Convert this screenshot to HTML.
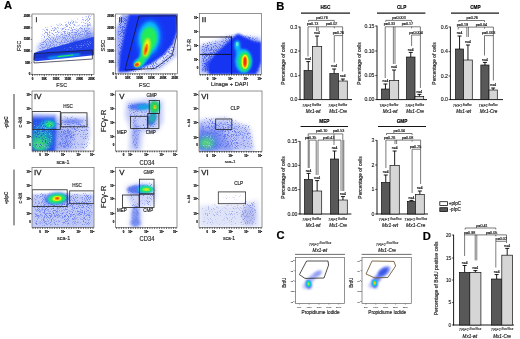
<!DOCTYPE html>
<html lang="en"><head><meta charset="utf-8"><title>Figure</title>
<style>
html,body{margin:0;padding:0;background:#fff;}
body{width:520px;height:339px;overflow:hidden;font-family:"Liberation Sans", Arial, sans-serif;}
svg{display:block;font-family:"Liberation Sans", Arial, sans-serif;}
</style></head>
<body>
<svg width="520" height="339" viewBox="0 0 520 339">
<rect x="0" y="0" width="520" height="339" fill="#ffffff"/>
<filter id="soft" x="0" y="0" width="100%" height="100%" filterUnits="userSpaceOnUse"><feGaussianBlur stdDeviation="0.18"/></filter>
<g id="fig" filter="url(#soft)">
<defs>
<filter id="b03" x="-20%" y="-20%" width="140%" height="140%"><feGaussianBlur stdDeviation="0.3"/></filter>
<filter id="b05" x="-30%" y="-30%" width="160%" height="160%"><feGaussianBlur stdDeviation="0.5"/></filter>
<filter id="b08" x="-30%" y="-30%" width="160%" height="160%"><feGaussianBlur stdDeviation="0.8"/></filter>
<filter id="b1" x="-40%" y="-40%" width="180%" height="180%"><feGaussianBlur stdDeviation="1.1"/></filter>
<filter id="b15" x="-50%" y="-50%" width="200%" height="200%"><feGaussianBlur stdDeviation="1.6"/></filter>
<filter id="b2" x="-50%" y="-50%" width="200%" height="200%"><feGaussianBlur stdDeviation="2.2"/></filter>
<filter id="b3" x="-60%" y="-60%" width="220%" height="220%"><feGaussianBlur stdDeviation="3"/></filter>
<filter id="spk" x="-5%" y="-5%" width="110%" height="110%" color-interpolation-filters="sRGB">
  <feGaussianBlur in="SourceGraphic" stdDeviation="2" result="g"/>
  <feTurbulence type="fractalNoise" baseFrequency="0.95" numOctaves="2" seed="7" result="n"/>
  <feColorMatrix in="n" type="matrix" values="0 0 0 0 0  0 0 0 0 0  0 0 0 0 0  1 0 0 0 0" result="na"/>
  <feComposite in="na" in2="g" operator="in" result="m"/>
  <feColorMatrix in="m" type="matrix" values="0 0 0 0 0  0 0 0 0 0  0 0 0 0 0  0 0 0 8 -3" result="mask"/>
  <feComposite in="g" in2="mask" operator="in"/>
</filter>
<filter id="spk2" x="-5%" y="-5%" width="110%" height="110%" color-interpolation-filters="sRGB">
  <feGaussianBlur in="SourceGraphic" stdDeviation="2" result="g"/>
  <feTurbulence type="fractalNoise" baseFrequency="1.1" numOctaves="2" seed="23" result="n"/>
  <feColorMatrix in="n" type="matrix" values="0 0 0 0 0  0 0 0 0 0  0 0 0 0 0  0 1 0 0 0" result="na"/>
  <feComposite in="na" in2="g" operator="in" result="m"/>
  <feColorMatrix in="m" type="matrix" values="0 0 0 0 0  0 0 0 0 0  0 0 0 0 0  0 0 0 8 -3" result="mask"/>
  <feComposite in="g" in2="mask" operator="in"/>
</filter>
</defs>
<text x="4.0" y="9.4" font-size="11.2" text-anchor="start" font-weight="bold" font-style="normal" fill="#000" stroke="#000" stroke-width="0.2">A</text>
<clipPath id="c1"><rect x="32" y="14" width="62" height="60.400000000000006"/></clipPath>
<g clip-path="url(#c1)">
<polygon points="36,54 37,46 44,40 94,26 94,40 60,50" fill="#8a9cf2" stroke="none" stroke-width="0.6" opacity="0.5" filter="url(#b2)"/>
<polygon points="56,49 94,32 94,40 60,50" fill="#5a72ee" stroke="none" stroke-width="0.6" opacity="0.55" filter="url(#b15)"/>
<g filter="url(#spk)"><polygon points="35,56 36,40 42,26 94,10 94,42 60,50" fill="#6a80f0" stroke="none" stroke-width="0.6" opacity="0.74"/></g>
<g filter="url(#spk2)"><polygon points="36,54 39,40 94,20 94,42 60,50" fill="#6a80f0" stroke="none" stroke-width="0.6" opacity="0.76"/></g>
<ellipse cx="76" cy="41.5" rx="5" ry="1.6" fill="#1434f2" opacity="0.5" filter="url(#b08)" transform="rotate(-12 76 41.5)"/>
<polygon points="34,53 38,51.6 94,36.8 94,55.2 36,61.2 33.5,60" fill="#2040e8" stroke="none" stroke-width="0.6" opacity="1" filter="url(#b03)"/>
<polygon points="34,53.6 92.4,50 92.4,53.5 34,58.5" fill="#1630c8" stroke="none" stroke-width="0.6" opacity="0.8" filter="url(#b05)"/>
<g filter="url(#spk)"><polygon points="38,51.5 94,36.5 94,49.5 40,53.2" fill="#9cb0f6" stroke="none" stroke-width="0.6" opacity="0.7"/></g>
<line x1="49" y1="57.9" x2="79" y2="54.3" stroke="#08c0fc" stroke-width="2" stroke-linecap="round" filter="url(#b08)" opacity="0.95"/>
<line x1="58.5" y1="56.7" x2="73" y2="55" stroke="#20ec58" stroke-width="1.2" stroke-linecap="round" filter="url(#b05)"/>
<polygon points="34.2,53.6 92.4,50 92.4,59 34,63" fill="none" stroke="#1a1a30" stroke-width="0.7" opacity="1"/>
</g>
<rect x="32" y="14" width="62" height="60.4" fill="none" stroke="#666" stroke-width="0.7"/>
<text x="30.4" y="17.0" font-size="2.8" text-anchor="end" font-weight="bold" fill="#111" stroke="#111" stroke-width="0.2">250K</text><line x1="30.8" y1="16.0" x2="32" y2="16.0" stroke="#222" stroke-width="0.5"/><text x="30.4" y="28.68" font-size="2.8" text-anchor="end" font-weight="bold" fill="#111" stroke="#111" stroke-width="0.2">200K</text><line x1="30.8" y1="27.68" x2="32" y2="27.68" stroke="#222" stroke-width="0.5"/><text x="30.4" y="40.36" font-size="2.8" text-anchor="end" font-weight="bold" fill="#111" stroke="#111" stroke-width="0.2">150K</text><line x1="30.8" y1="39.36" x2="32" y2="39.36" stroke="#222" stroke-width="0.5"/><text x="30.4" y="52.040000000000006" font-size="2.8" text-anchor="end" font-weight="bold" fill="#111" stroke="#111" stroke-width="0.2">100K</text><line x1="30.8" y1="51.040000000000006" x2="32" y2="51.040000000000006" stroke="#222" stroke-width="0.5"/><text x="30.4" y="63.720000000000006" font-size="2.8" text-anchor="end" font-weight="bold" fill="#111" stroke="#111" stroke-width="0.2">50K</text><line x1="30.8" y1="62.720000000000006" x2="32" y2="62.720000000000006" stroke="#222" stroke-width="0.5"/><text x="30.4" y="75.4" font-size="2.8" text-anchor="end" font-weight="bold" fill="#111" stroke="#111" stroke-width="0.2">0</text><line x1="30.8" y1="74.4" x2="32" y2="74.4" stroke="#222" stroke-width="0.5"/><text x="32.5" y="80.0" font-size="2.8" text-anchor="middle" font-weight="bold" fill="#111" stroke="#111" stroke-width="0.2">0</text><text x="44.3" y="80.0" font-size="2.8" text-anchor="middle" font-weight="bold" fill="#111" stroke="#111" stroke-width="0.2">50K</text><text x="56.1" y="80.0" font-size="2.8" text-anchor="middle" font-weight="bold" fill="#111" stroke="#111" stroke-width="0.2">100K</text><text x="67.9" y="80.0" font-size="2.8" text-anchor="middle" font-weight="bold" fill="#111" stroke="#111" stroke-width="0.2">150K</text><text x="79.7" y="80.0" font-size="2.8" text-anchor="middle" font-weight="bold" fill="#111" stroke="#111" stroke-width="0.2">200K</text><text x="91.5" y="80.0" font-size="2.8" text-anchor="middle" font-weight="bold" fill="#111" stroke="#111" stroke-width="0.2">250K</text><path d="M32.5 74.2v2M34.9 74.2v1.3M37.2 74.2v1.3M39.6 74.2v1.3M41.9 74.2v1.3M44.3 74.2v2M46.7 74.2v1.3M49.0 74.2v1.3M51.4 74.2v1.3M53.7 74.2v1.3M56.1 74.2v2M58.5 74.2v1.3M60.8 74.2v1.3M63.2 74.2v1.3M65.5 74.2v1.3M67.9 74.2v2M70.3 74.2v1.3M72.6 74.2v1.3M75.0 74.2v1.3M77.3 74.2v1.3M79.7 74.2v2M82.1 74.2v1.3M84.4 74.2v1.3M86.8 74.2v1.3M89.1 74.2v1.3M91.5 74.2v2" stroke="#111" stroke-width="0.7" fill="none"/>
<text x="35.4" y="22" font-size="8" text-anchor="start" font-weight="normal" font-style="normal" fill="#222" stroke="#222" stroke-width="0.25">i</text>
<text x="61.7" y="86.8" font-size="6.2" text-anchor="middle" font-weight="normal" font-style="normal" fill="#222" stroke="#222" stroke-width="0.16" textLength="10.8" lengthAdjust="spacingAndGlyphs">FSC</text>
<text x="21.4" y="46" font-size="6.2" text-anchor="middle" font-weight="normal" font-style="normal" fill="#222" stroke="#222" stroke-width="0.16" transform="rotate(-90 21.4 46)" textLength="10.2" lengthAdjust="spacingAndGlyphs">FSC</text>
<clipPath id="c2"><rect x="115.6" y="14" width="61.80000000000001" height="59.8"/></clipPath>
<g clip-path="url(#c2)">
<polygon points="140,73 165,58 177.4,40 177.4,56 160,70" fill="#8a9af0" stroke="none" stroke-width="0.6" opacity="0.45" filter="url(#b15)"/>
<g filter="url(#spk)"><polygon points="116,73.8 115.6,14 177.4,14 177.4,58 162,70 140,73.8" fill="#3f58ea" stroke="none" stroke-width="0.6" opacity="0.74"/></g>
<polygon points="116,70 116,30 122,14 130,14 122,60" fill="#4a62ec" stroke="none" stroke-width="0.6" opacity="0.5" filter="url(#b1)"/>
<g filter="url(#spk2)"><polygon points="116,73 115.6,14 132,14 122,66" fill="#3a55ec" stroke="none" stroke-width="0.6" opacity="0.78"/></g>
<polygon points="118,72.5 120,55 125,30 129,14 177.4,14 177.4,32 173,44 164,55 152,63.5 140,69 128,72" fill="#1434f2" stroke="none" stroke-width="0.6" opacity="1" filter="url(#b1)"/>
<ellipse cx="149" cy="39" rx="14" ry="21" fill="#0a5cff" opacity="0.7" filter="url(#b2)" transform="rotate(8 149 39)"/>
<ellipse cx="149" cy="38" rx="10.6" ry="16.5" fill="#08c0fc" opacity="0.95" filter="url(#b15)" transform="rotate(6 149 38)"/>
<ellipse cx="144.6" cy="55" rx="5" ry="8" fill="#08c0fc" opacity="0.9" filter="url(#b1)" transform="rotate(18 144.6 55)"/>
<ellipse cx="139.6" cy="62.6" rx="7" ry="4.6" fill="#08c0fc" opacity="0.95" filter="url(#b1)" transform="rotate(-35 139.6 62.6)"/>
<ellipse cx="149" cy="38.5" rx="8" ry="11.5" fill="#20ec58" opacity="1" filter="url(#b1)" transform="rotate(4 149 38.5)"/>
<ellipse cx="146.6" cy="50" rx="5" ry="9" fill="#20ec58" opacity="1" filter="url(#b1)" transform="rotate(14 146.6 50)"/>
<ellipse cx="139.3" cy="62.8" rx="5" ry="3.1" fill="#20ec58" opacity="1" filter="url(#b08)" transform="rotate(-35 139.3 62.8)"/>
<ellipse cx="142.6" cy="58" rx="2.6" ry="4.2" fill="#20ec58" opacity="1" filter="url(#b08)" transform="rotate(30 142.6 58)"/>
<ellipse cx="146.6" cy="47.5" rx="3.4" ry="9.6" fill="#f2f010" opacity="1" filter="url(#b08)" transform="rotate(10 146.6 47.5)"/>
<ellipse cx="137.4" cy="64.2" rx="3.3" ry="2.3" fill="#f2f010" opacity="1" filter="url(#b05)" transform="rotate(-30 137.4 64.2)"/>
<ellipse cx="145.9" cy="49.6" rx="1.6" ry="5.6" fill="#ff7208" opacity="1" filter="url(#b05)" transform="rotate(12 145.9 49.6)"/>
<ellipse cx="146" cy="50" rx="0.7" ry="3" fill="#f03208" opacity="0.9" filter="url(#b03)" transform="rotate(12 146 50)"/>
<ellipse cx="136.8" cy="64.7" rx="2.3" ry="1.8" fill="#f84a08" opacity="1" filter="url(#b05)" transform="rotate(-25 136.8 64.7)"/>
<polygon points="125,70 155,68.4 172,55.6 177.2,34 176.4,15.8 139,16" fill="none" stroke="#16162a" stroke-width="0.75" opacity="1"/>
</g>
<rect x="115.6" y="14" width="61.8" height="59.8" fill="none" stroke="#666" stroke-width="0.7"/>
<text x="114.0" y="17.0" font-size="2.8" text-anchor="end" font-weight="bold" fill="#111" stroke="#111" stroke-width="0.2">250K</text><line x1="114.39999999999999" y1="16.0" x2="115.6" y2="16.0" stroke="#222" stroke-width="0.5"/><text x="114.0" y="28.56" font-size="2.8" text-anchor="end" font-weight="bold" fill="#111" stroke="#111" stroke-width="0.2">200K</text><line x1="114.39999999999999" y1="27.56" x2="115.6" y2="27.56" stroke="#222" stroke-width="0.5"/><text x="114.0" y="40.12" font-size="2.8" text-anchor="end" font-weight="bold" fill="#111" stroke="#111" stroke-width="0.2">150K</text><line x1="114.39999999999999" y1="39.12" x2="115.6" y2="39.12" stroke="#222" stroke-width="0.5"/><text x="114.0" y="51.67999999999999" font-size="2.8" text-anchor="end" font-weight="bold" fill="#111" stroke="#111" stroke-width="0.2">100K</text><line x1="114.39999999999999" y1="50.67999999999999" x2="115.6" y2="50.67999999999999" stroke="#222" stroke-width="0.5"/><text x="114.0" y="63.239999999999995" font-size="2.8" text-anchor="end" font-weight="bold" fill="#111" stroke="#111" stroke-width="0.2">50K</text><line x1="114.39999999999999" y1="62.239999999999995" x2="115.6" y2="62.239999999999995" stroke="#222" stroke-width="0.5"/><text x="114.0" y="74.8" font-size="2.8" text-anchor="end" font-weight="bold" fill="#111" stroke="#111" stroke-width="0.2">0</text><line x1="114.39999999999999" y1="73.8" x2="115.6" y2="73.8" stroke="#222" stroke-width="0.5"/><text x="116.1" y="79.39999999999999" font-size="2.8" text-anchor="middle" font-weight="bold" fill="#111" stroke="#111" stroke-width="0.2">0</text><text x="127.86" y="79.39999999999999" font-size="2.8" text-anchor="middle" font-weight="bold" fill="#111" stroke="#111" stroke-width="0.2">50K</text><text x="139.62" y="79.39999999999999" font-size="2.8" text-anchor="middle" font-weight="bold" fill="#111" stroke="#111" stroke-width="0.2">100K</text><text x="151.38" y="79.39999999999999" font-size="2.8" text-anchor="middle" font-weight="bold" fill="#111" stroke="#111" stroke-width="0.2">150K</text><text x="163.14" y="79.39999999999999" font-size="2.8" text-anchor="middle" font-weight="bold" fill="#111" stroke="#111" stroke-width="0.2">200K</text><text x="174.9" y="79.39999999999999" font-size="2.8" text-anchor="middle" font-weight="bold" fill="#111" stroke="#111" stroke-width="0.2">250K</text><path d="M116.1 73.6v2M118.5 73.6v1.3M120.8 73.6v1.3M123.2 73.6v1.3M125.5 73.6v1.3M127.9 73.6v2M130.2 73.6v1.3M132.6 73.6v1.3M134.9 73.6v1.3M137.3 73.6v1.3M139.6 73.6v2M142.0 73.6v1.3M144.3 73.6v1.3M146.7 73.6v1.3M149.0 73.6v1.3M151.4 73.6v2M153.7 73.6v1.3M156.1 73.6v1.3M158.4 73.6v1.3M160.8 73.6v1.3M163.1 73.6v2M165.5 73.6v1.3M167.8 73.6v1.3M170.2 73.6v1.3M172.5 73.6v1.3M174.9 73.6v2" stroke="#111" stroke-width="0.7" fill="none"/>
<text x="118.8" y="22" font-size="8" text-anchor="start" font-weight="normal" font-style="normal" fill="#333" stroke="#333" stroke-width="0.25">ii</text>
<text x="144.6" y="86.9" font-size="6.2" text-anchor="middle" font-weight="normal" font-style="normal" fill="#222" stroke="#222" stroke-width="0.16" textLength="11" lengthAdjust="spacingAndGlyphs">FSC</text>
<text x="105.3" y="45.8" font-size="6.2" text-anchor="middle" font-weight="normal" font-style="normal" fill="#222" stroke="#222" stroke-width="0.16" transform="rotate(-90 105.3 45.8)" textLength="11.6" lengthAdjust="spacingAndGlyphs">SSC</text>
<clipPath id="c3"><rect x="199.4" y="13.6" width="61.99999999999997" height="60.800000000000004"/></clipPath>
<g clip-path="url(#c3)">
<polygon points="199.4,46 215,42 230,36 261.4,38 261.4,74.4 199.4,74.4" fill="#7086f0" stroke="none" stroke-width="0.6" opacity="0.6" filter="url(#b2)"/>
<g filter="url(#spk)"><polygon points="199.4,42 215,38 232,32 261.4,34 261.4,74.4 199.4,74.4" fill="#3f58ea" stroke="none" stroke-width="0.6" opacity="0.76"/></g>
<g filter="url(#spk2)"><polygon points="199.4,52 225,42 225,74.4 199.4,74.4" fill="#3f58ea" stroke="none" stroke-width="0.6" opacity="0.76"/></g>
<polygon points="209,74.4 208.5,64 214,55 223,46.5 231,39 238,33.5 245,37 254,41 261.4,42 261.4,62 259,68 256,74.4" fill="#1434f2" stroke="none" stroke-width="0.6" opacity="1" filter="url(#b1)"/>
<ellipse cx="212" cy="66" rx="8" ry="7" fill="#1434f2" opacity="0.6" filter="url(#b15)"/>
<ellipse cx="243.6" cy="61" rx="8.6" ry="12" fill="#08c0fc" opacity="0.95" filter="url(#b1)"/>
<ellipse cx="237.3" cy="45" rx="3" ry="4.6" fill="#08c0fc" opacity="0.95" filter="url(#b08)"/>
<ellipse cx="239" cy="52" rx="3.2" ry="6" fill="#08c0fc" opacity="0.85" filter="url(#b08)" transform="rotate(-20 239 52)"/>
<ellipse cx="244.5" cy="61.6" rx="6.4" ry="9.8" fill="#20ec58" opacity="1" filter="url(#b08)"/>
<ellipse cx="237.2" cy="44.2" rx="1.4" ry="2.2" fill="#5ff0d0" opacity="0.9" filter="url(#b05)"/>
<ellipse cx="245" cy="61.8" rx="3.6" ry="7.2" fill="#f2f010" opacity="1" filter="url(#b05)"/>
<ellipse cx="245" cy="61.8" rx="2" ry="5.6" fill="#ff7208" opacity="1" filter="url(#b05)"/>
<ellipse cx="245" cy="61.6" rx="1.1" ry="4" fill="#f03208" opacity="1" filter="url(#b03)"/>
<line x1="199.4" y1="37" x2="231.6" y2="37" stroke="#101020" stroke-width="1"/>
<line x1="199.4" y1="54.4" x2="231.6" y2="54.4" stroke="#101020" stroke-width="0.9"/>
<line x1="231.6" y1="36.5" x2="231.6" y2="74.4" stroke="#101020" stroke-width="0.9"/>
</g>
<rect x="199.4" y="13.6" width="62.0" height="60.8" fill="none" stroke="#666" stroke-width="0.7"/>
<text x="198.20000000000002" y="18.856" font-size="2.8" text-anchor="end" font-weight="bold" fill="#111" stroke="#111" stroke-width="0.2">10<tspan dy="-1" font-size="2">5</tspan></text><line x1="198.4" y1="17.856" x2="199.4" y2="17.856" stroke="#222" stroke-width="0.5"/><text x="198.20000000000002" y="32.84" font-size="2.8" text-anchor="end" font-weight="bold" fill="#111" stroke="#111" stroke-width="0.2">10<tspan dy="-1" font-size="2">4</tspan></text><line x1="198.4" y1="31.840000000000003" x2="199.4" y2="31.840000000000003" stroke="#222" stroke-width="0.5"/><text x="198.20000000000002" y="46.824000000000005" font-size="2.8" text-anchor="end" font-weight="bold" fill="#111" stroke="#111" stroke-width="0.2">10<tspan dy="-1" font-size="2">3</tspan></text><line x1="198.4" y1="45.824000000000005" x2="199.4" y2="45.824000000000005" stroke="#222" stroke-width="0.5"/><text x="198.20000000000002" y="61.416000000000004" font-size="2.8" text-anchor="end" font-weight="bold" fill="#111" stroke="#111" stroke-width="0.2">10<tspan dy="-1" font-size="2">2</tspan></text><line x1="198.4" y1="60.416000000000004" x2="199.4" y2="60.416000000000004" stroke="#222" stroke-width="0.5"/><text x="198.20000000000002" y="69.32000000000001" font-size="2.8" text-anchor="end" font-weight="bold" fill="#111" stroke="#111" stroke-width="0.2">0</text><text x="214.28" y="79.7" font-size="2.8" text-anchor="middle" font-weight="bold" fill="#111" stroke="#111" stroke-width="0.2">10<tspan dy="-1" font-size="2">2</tspan></text><text x="230.39999999999998" y="79.7" font-size="2.8" text-anchor="middle" font-weight="bold" fill="#111" stroke="#111" stroke-width="0.2">10<tspan dy="-1" font-size="2">3</tspan></text><text x="245.89999999999998" y="79.7" font-size="2.8" text-anchor="middle" font-weight="bold" fill="#111" stroke="#111" stroke-width="0.2">10<tspan dy="-1" font-size="2">4</tspan></text><text x="259.53999999999996" y="79.7" font-size="2.8" text-anchor="middle" font-weight="bold" fill="#111" stroke="#111" stroke-width="0.2">10<tspan dy="-1" font-size="2">5</tspan></text><text x="207.46" y="79.7" font-size="2.8" text-anchor="middle" font-weight="bold" fill="#111" stroke="#111" stroke-width="0.2">0</text><path d="M200.4 74.2v1.5M202.8 74.2v1.5M205.2 74.2v1.5M207.6 74.2v1.5M210.0 74.2v1.5M212.4 74.2v1.5M214.8 74.2v1.5M217.2 74.2v1.5M219.6 74.2v1.5M222.0 74.2v1.5M224.4 74.2v1.5M226.8 74.2v1.5M229.2 74.2v1.5M231.6 74.2v1.5M234.0 74.2v1.5M236.4 74.2v1.5M238.8 74.2v1.5M241.2 74.2v1.5M243.6 74.2v1.5M246.0 74.2v1.5M248.4 74.2v1.5M250.8 74.2v1.5M253.2 74.2v1.5M255.6 74.2v1.5M258.0 74.2v1.5M260.4 74.2v1.5" stroke="#111" stroke-width="0.7" fill="none"/>
<text x="201.8" y="22" font-size="8" text-anchor="start" font-weight="normal" font-style="normal" fill="#333" stroke="#333" stroke-width="0.25" textLength="4.6" lengthAdjust="spacingAndGlyphs">iii</text>
<text x="229.5" y="86.4" font-size="5.8" text-anchor="middle" font-weight="normal" font-style="normal" fill="#222" stroke="#222" stroke-width="0.16" textLength="37" lengthAdjust="spacingAndGlyphs">Linage + DAPI</text>
<text x="190.6" y="45.3" font-size="6" text-anchor="middle" font-weight="normal" font-style="normal" fill="#222" stroke="#222" stroke-width="0.16" transform="rotate(-90 190.6 45.3)" textLength="12.6" lengthAdjust="spacingAndGlyphs">IL7-R</text>
<text x="7.6" y="122.3" font-size="4.6" text-anchor="middle" font-weight="bold" font-style="normal" fill="#222" stroke="#222" stroke-width="0.1" transform="rotate(-90 7.6 122.3)">-pIpC</text>
<line x1="14" y1="94" x2="14" y2="149" stroke="#222" stroke-width="0.9"/>
<text x="7.6" y="198" font-size="4.5" text-anchor="middle" font-weight="bold" font-style="normal" fill="#222" stroke="#222" stroke-width="0.1" transform="rotate(-90 7.6 198)">+pIpC</text>
<line x1="14" y1="169.6" x2="14" y2="225.4" stroke="#222" stroke-width="0.9"/>
<clipPath id="c4"><rect x="32" y="91" width="62" height="60"/></clipPath>
<g clip-path="url(#c4)">
<polygon points="54,116 88,117 90,135 84,151 54,151" fill="#8e9cf0" stroke="none" stroke-width="0.6" opacity="0.5" filter="url(#b2)"/>
<polygon points="54,128 74,130 70,151 54,151" fill="#7a8cf0" stroke="none" stroke-width="0.6" opacity="0.5" filter="url(#b2)"/>
<g filter="url(#spk)"><polygon points="32,113 90,115 92,151 32,151" fill="#5068ec" stroke="none" stroke-width="0.6" opacity="0.7"/></g>
<g filter="url(#spk2)"><polygon points="56,117 86,117 86,126 75,140 70,151 56,151" fill="#5068ec" stroke="none" stroke-width="0.6" opacity="0.72"/></g>
<ellipse cx="72.5" cy="121.3" rx="10.5" ry="2.6" fill="#7084f0" opacity="0.75" filter="url(#b1)"/>
<polygon points="32,113.5 56,114 56,119 32,119" fill="#7f92f0" stroke="none" stroke-width="0.6" opacity="0.6" filter="url(#b1)"/>
<polygon points="30,117 55,117.4 56.5,130 55.5,153 30,153" fill="#2a52ec" stroke="none" stroke-width="0.6" opacity="1" filter="url(#b15)"/>
<ellipse cx="42" cy="137" rx="11" ry="12" fill="#1a8ed0" opacity="0.8" filter="url(#b15)" transform="rotate(-20 42 137)"/>
<ellipse cx="41" cy="142" rx="10.5" ry="9.5" fill="#18a8b4" opacity="0.85" filter="url(#b15)"/>
<ellipse cx="40" cy="143.5" rx="8" ry="7" fill="#2cc88c" opacity="0.9" filter="url(#b15)"/>
<ellipse cx="39.5" cy="144.5" rx="5" ry="4.6" fill="#44d878" opacity="0.8" filter="url(#b1)"/>
<ellipse cx="48" cy="124.4" rx="8.5" ry="4.8" fill="#16a0e4" opacity="0.85" filter="url(#b1)"/>
<ellipse cx="49.3" cy="124.3" rx="5" ry="3.3" fill="#12c8c0" opacity="0.9" filter="url(#b08)"/>
<ellipse cx="49.6" cy="124.3" rx="3.5" ry="2.4" fill="#20ec58" opacity="1" filter="url(#b08)"/>
<g filter="url(#spk)"><polygon points="32,118 55,118 55,151 32,151" fill="#9cc4f6" stroke="none" stroke-width="0.6" opacity="0.7"/></g>
<g filter="url(#spk2)"><polygon points="32,118 55,118 55,151 32,151" fill="#2038c8" stroke="none" stroke-width="0.6" opacity="0.68"/></g>
<rect x="32.1" y="111.4" width="28.2" height="18.0" fill="none" stroke="#222" stroke-width="0.8" opacity="1"/>
<rect x="61" y="112.8" width="26" height="14.0" fill="none" stroke="#222" stroke-width="0.8" opacity="1"/>
</g>
<rect x="32" y="91" width="62" height="60" fill="none" stroke="#666" stroke-width="0.7"/>
<text x="30.8" y="96.2" font-size="2.8" text-anchor="end" font-weight="bold" fill="#111" stroke="#111" stroke-width="0.2">10<tspan dy="-1" font-size="2">5</tspan></text><line x1="31" y1="95.2" x2="32" y2="95.2" stroke="#222" stroke-width="0.5"/><text x="30.8" y="110.0" font-size="2.8" text-anchor="end" font-weight="bold" fill="#111" stroke="#111" stroke-width="0.2">10<tspan dy="-1" font-size="2">4</tspan></text><line x1="31" y1="109.0" x2="32" y2="109.0" stroke="#222" stroke-width="0.5"/><text x="30.8" y="123.8" font-size="2.8" text-anchor="end" font-weight="bold" fill="#111" stroke="#111" stroke-width="0.2">10<tspan dy="-1" font-size="2">3</tspan></text><line x1="31" y1="122.8" x2="32" y2="122.8" stroke="#222" stroke-width="0.5"/><text x="30.8" y="138.2" font-size="2.8" text-anchor="end" font-weight="bold" fill="#111" stroke="#111" stroke-width="0.2">10<tspan dy="-1" font-size="2">2</tspan></text><line x1="31" y1="137.2" x2="32" y2="137.2" stroke="#222" stroke-width="0.5"/><text x="30.8" y="146.0" font-size="2.8" text-anchor="end" font-weight="bold" fill="#111" stroke="#111" stroke-width="0.2">0</text><text x="46.879999999999995" y="156.3" font-size="2.8" text-anchor="middle" font-weight="bold" fill="#111" stroke="#111" stroke-width="0.2">10<tspan dy="-1" font-size="2">2</tspan></text><text x="63.0" y="156.3" font-size="2.8" text-anchor="middle" font-weight="bold" fill="#111" stroke="#111" stroke-width="0.2">10<tspan dy="-1" font-size="2">3</tspan></text><text x="78.5" y="156.3" font-size="2.8" text-anchor="middle" font-weight="bold" fill="#111" stroke="#111" stroke-width="0.2">10<tspan dy="-1" font-size="2">4</tspan></text><text x="92.14" y="156.3" font-size="2.8" text-anchor="middle" font-weight="bold" fill="#111" stroke="#111" stroke-width="0.2">10<tspan dy="-1" font-size="2">5</tspan></text><text x="40.06" y="156.3" font-size="2.8" text-anchor="middle" font-weight="bold" fill="#111" stroke="#111" stroke-width="0.2">0</text><path d="M33.0 150.8v1.5M35.4 150.8v1.5M37.8 150.8v1.5M40.2 150.8v1.5M42.6 150.8v1.5M45.0 150.8v1.5M47.4 150.8v1.5M49.8 150.8v1.5M52.2 150.8v1.5M54.6 150.8v1.5M57.0 150.8v1.5M59.4 150.8v1.5M61.8 150.8v1.5M64.2 150.8v1.5M66.6 150.8v1.5M69.0 150.8v1.5M71.4 150.8v1.5M73.8 150.8v1.5M76.2 150.8v1.5M78.6 150.8v1.5M81.0 150.8v1.5M83.4 150.8v1.5M85.8 150.8v1.5M88.2 150.8v1.5M90.6 150.8v1.5M93.0 150.8v1.5" stroke="#111" stroke-width="0.7" fill="none"/>
<text x="34" y="98.6" font-size="7.8" text-anchor="start" font-weight="normal" font-style="normal" fill="#222" stroke="#222" stroke-width="0.28">IV</text>
<text x="68" y="107.6" font-size="4.6" text-anchor="middle" font-weight="normal" font-style="normal" fill="#222" stroke="#222" stroke-width="0.16">HSC</text>
<text x="63" y="164.2" font-size="5.4" text-anchor="middle" font-weight="normal" font-style="normal" fill="#222" stroke="#222" stroke-width="0.16">sca-1</text>
<text x="21.6" y="122.2" font-size="5.2" text-anchor="middle" font-weight="normal" font-style="normal" fill="#222" stroke="#222" stroke-width="0.16" transform="rotate(-90 21.6 122.2)" textLength="10.6" lengthAdjust="spacingAndGlyphs">c-kit</text>
<clipPath id="c5"><rect x="115.6" y="91" width="61.400000000000006" height="60"/></clipPath>
<g clip-path="url(#c5)">
<polygon points="126,102 150,98 163,101 163,122 157,131 143,132 141,151 129,151 130,128 125,116" fill="#8e9cf0" stroke="none" stroke-width="0.6" opacity="0.5" filter="url(#b2)"/>
<g filter="url(#spk)"><polygon points="124,102 150,98 163,100 163,120 158,132 143,134 140,151 128,151 130,130 126,118" fill="#5068ec" stroke="none" stroke-width="0.6" opacity="0.68"/></g>
<g filter="url(#spk2)"><polygon points="131,112 142,112 140,151 130,151" fill="#5068ec" stroke="none" stroke-width="0.6" opacity="0.72"/></g>
<ellipse cx="135.6" cy="135" rx="3.2" ry="14" fill="#8a9af0" opacity="0.55" filter="url(#b1)"/>
<ellipse cx="139" cy="106.6" rx="10.5" ry="3.4" fill="#3c66ee" opacity="0.85" filter="url(#b1)" transform="rotate(-5 139 106.6)"/>
<ellipse cx="144" cy="107" rx="6.5" ry="2.7" fill="#16a4e8" opacity="1" filter="url(#b08)" transform="rotate(-5 144 107)"/>
<ellipse cx="152" cy="119" rx="4" ry="7" fill="#2a6ae0" opacity="0.9" filter="url(#b1)" transform="rotate(20 152 119)"/>
<ellipse cx="152.5" cy="118" rx="3" ry="5" fill="#22b0b0" opacity="0.95" filter="url(#b08)" transform="rotate(25 152.5 118)"/>
<ellipse cx="154.5" cy="107" rx="5.2" ry="6.3" fill="#20b8c8" opacity="1" filter="url(#b08)"/>
<ellipse cx="154.6" cy="107" rx="4.4" ry="5.6" fill="#2fd050" opacity="1" filter="url(#b08)"/>
<ellipse cx="155" cy="107" rx="1.5" ry="2.1" fill="#c8e428" opacity="1" filter="url(#b05)"/>
<ellipse cx="155.2" cy="106.6" rx="0.8" ry="1.1" fill="#ff8a10" opacity="1" filter="url(#b05)"/>
<rect x="149.2" y="100.4" width="10.4" height="13.0" fill="none" stroke="#222" stroke-width="0.8" opacity="1"/>
<rect x="147.8" y="113.4" width="11.1" height="15.0" fill="none" stroke="#222" stroke-width="0.8" opacity="1"/>
<rect x="130.6" y="116.3" width="17.2" height="12.1" fill="none" stroke="#222" stroke-width="0.8" opacity="1"/>
</g>
<rect x="115.6" y="91" width="61.4" height="60" fill="none" stroke="#666" stroke-width="0.7"/>
<text x="114.39999999999999" y="96.2" font-size="2.8" text-anchor="end" font-weight="bold" fill="#111" stroke="#111" stroke-width="0.2">10<tspan dy="-1" font-size="2">5</tspan></text><line x1="114.6" y1="95.2" x2="115.6" y2="95.2" stroke="#222" stroke-width="0.5"/><text x="114.39999999999999" y="110.0" font-size="2.8" text-anchor="end" font-weight="bold" fill="#111" stroke="#111" stroke-width="0.2">10<tspan dy="-1" font-size="2">4</tspan></text><line x1="114.6" y1="109.0" x2="115.6" y2="109.0" stroke="#222" stroke-width="0.5"/><text x="114.39999999999999" y="123.8" font-size="2.8" text-anchor="end" font-weight="bold" fill="#111" stroke="#111" stroke-width="0.2">10<tspan dy="-1" font-size="2">3</tspan></text><line x1="114.6" y1="122.8" x2="115.6" y2="122.8" stroke="#222" stroke-width="0.5"/><text x="114.39999999999999" y="138.2" font-size="2.8" text-anchor="end" font-weight="bold" fill="#111" stroke="#111" stroke-width="0.2">10<tspan dy="-1" font-size="2">2</tspan></text><line x1="114.6" y1="137.2" x2="115.6" y2="137.2" stroke="#222" stroke-width="0.5"/><text x="114.39999999999999" y="146.0" font-size="2.8" text-anchor="end" font-weight="bold" fill="#111" stroke="#111" stroke-width="0.2">0</text><text x="130.33599999999998" y="156.3" font-size="2.8" text-anchor="middle" font-weight="bold" fill="#111" stroke="#111" stroke-width="0.2">10<tspan dy="-1" font-size="2">2</tspan></text><text x="146.3" y="156.3" font-size="2.8" text-anchor="middle" font-weight="bold" fill="#111" stroke="#111" stroke-width="0.2">10<tspan dy="-1" font-size="2">3</tspan></text><text x="161.65" y="156.3" font-size="2.8" text-anchor="middle" font-weight="bold" fill="#111" stroke="#111" stroke-width="0.2">10<tspan dy="-1" font-size="2">4</tspan></text><text x="175.15800000000002" y="156.3" font-size="2.8" text-anchor="middle" font-weight="bold" fill="#111" stroke="#111" stroke-width="0.2">10<tspan dy="-1" font-size="2">5</tspan></text><text x="123.582" y="156.3" font-size="2.8" text-anchor="middle" font-weight="bold" fill="#111" stroke="#111" stroke-width="0.2">0</text><path d="M116.6 150.8v1.5M119.0 150.8v1.5M121.4 150.8v1.5M123.7 150.8v1.5M126.1 150.8v1.5M128.5 150.8v1.5M130.9 150.8v1.5M133.2 150.8v1.5M135.6 150.8v1.5M138.0 150.8v1.5M140.4 150.8v1.5M142.7 150.8v1.5M145.1 150.8v1.5M147.5 150.8v1.5M149.9 150.8v1.5M152.2 150.8v1.5M154.6 150.8v1.5M157.0 150.8v1.5M159.4 150.8v1.5M161.7 150.8v1.5M164.1 150.8v1.5M166.5 150.8v1.5M168.9 150.8v1.5M171.2 150.8v1.5M173.6 150.8v1.5M176.0 150.8v1.5" stroke="#111" stroke-width="0.7" fill="none"/>
<text x="119.2" y="98.6" font-size="7.8" text-anchor="start" font-weight="normal" font-style="normal" fill="#222" stroke="#222" stroke-width="0.28">V</text>
<text x="151.6" y="96.8" font-size="4.5" text-anchor="middle" font-weight="normal" font-style="normal" fill="#222" stroke="#222" stroke-width="0.16">GMP</text>
<text x="122" y="134" font-size="4.5" text-anchor="middle" font-weight="normal" font-style="normal" fill="#222" stroke="#222" stroke-width="0.16">MEP</text>
<text x="150.8" y="133.8" font-size="4.5" text-anchor="middle" font-weight="normal" font-style="normal" fill="#222" stroke="#222" stroke-width="0.16">CMP</text>
<text x="147" y="164.6" font-size="6.8" text-anchor="middle" font-weight="normal" font-style="normal" fill="#222" stroke="#222" stroke-width="0.14" textLength="14.8" lengthAdjust="spacingAndGlyphs">CD34</text>
<text x="106.2" y="121" font-size="6.3" text-anchor="middle" font-weight="normal" font-style="normal" fill="#222" stroke="#222" stroke-width="0.16" transform="rotate(-90 106.2 121)" textLength="22.6" lengthAdjust="spacingAndGlyphs">FCγ-R</text>
<clipPath id="c6"><rect x="199" y="91" width="63" height="60.400000000000006"/></clipPath>
<g clip-path="url(#c6)">
<polygon points="199,120 225,118 250,128 254,151.4 199,151.4" fill="#8e9cf0" stroke="none" stroke-width="0.6" opacity="0.55" filter="url(#b2)"/>
<polygon points="199,128 222,128 234,151.4 199,151.4" fill="#6a80f0" stroke="none" stroke-width="0.6" opacity="0.6" filter="url(#b2)"/>
<g filter="url(#spk)"><polygon points="199,116 225,114 252,122 257,151.4 199,151.4" fill="#5068ec" stroke="none" stroke-width="0.6" opacity="0.7"/></g>
<g filter="url(#spk2)"><polygon points="199,120 225,118 245,130 248,151.4 199,151.4" fill="#5068ec" stroke="none" stroke-width="0.6" opacity="0.7"/></g>
<ellipse cx="208" cy="141.5" rx="13" ry="11" fill="#5a74ee" opacity="0.5" filter="url(#b2)"/>
<ellipse cx="201.5" cy="136" rx="2.5" ry="14" fill="#5a74ee" opacity="0.4" filter="url(#b1)"/>
<ellipse cx="207" cy="142.5" rx="10" ry="8" fill="#3a98c8" opacity="0.6" filter="url(#b15)"/>
<ellipse cx="206.5" cy="143" rx="7" ry="5.4" fill="#48c490" opacity="0.8" filter="url(#b1)"/>
<ellipse cx="206" cy="143" rx="3.6" ry="2.8" fill="#5cd870" opacity="0.7" filter="url(#b08)"/>
<g filter="url(#spk)"><polygon points="199,132 218,132 218,151.4 199,151.4" fill="#c0d4f8" stroke="none" stroke-width="0.6" opacity="0.7"/></g>
<rect x="215.7" y="119" width="16.1" height="10.4" fill="none" stroke="#222" stroke-width="0.8" opacity="1"/>
</g>
<rect x="199" y="91" width="63" height="60.4" fill="none" stroke="#666" stroke-width="0.7"/>
<text x="197.8" y="96.228" font-size="2.8" text-anchor="end" font-weight="bold" fill="#111" stroke="#111" stroke-width="0.2">10<tspan dy="-1" font-size="2">5</tspan></text><line x1="198" y1="95.228" x2="199" y2="95.228" stroke="#222" stroke-width="0.5"/><text x="197.8" y="110.12" font-size="2.8" text-anchor="end" font-weight="bold" fill="#111" stroke="#111" stroke-width="0.2">10<tspan dy="-1" font-size="2">4</tspan></text><line x1="198" y1="109.12" x2="199" y2="109.12" stroke="#222" stroke-width="0.5"/><text x="197.8" y="124.012" font-size="2.8" text-anchor="end" font-weight="bold" fill="#111" stroke="#111" stroke-width="0.2">10<tspan dy="-1" font-size="2">3</tspan></text><line x1="198" y1="123.012" x2="199" y2="123.012" stroke="#222" stroke-width="0.5"/><text x="197.8" y="138.508" font-size="2.8" text-anchor="end" font-weight="bold" fill="#111" stroke="#111" stroke-width="0.2">10<tspan dy="-1" font-size="2">2</tspan></text><line x1="198" y1="137.508" x2="199" y2="137.508" stroke="#222" stroke-width="0.5"/><text x="197.8" y="146.36" font-size="2.8" text-anchor="end" font-weight="bold" fill="#111" stroke="#111" stroke-width="0.2">0</text><text x="214.12" y="156.70000000000002" font-size="2.8" text-anchor="middle" font-weight="bold" fill="#111" stroke="#111" stroke-width="0.2">10<tspan dy="-1" font-size="2">2</tspan></text><text x="230.5" y="156.70000000000002" font-size="2.8" text-anchor="middle" font-weight="bold" fill="#111" stroke="#111" stroke-width="0.2">10<tspan dy="-1" font-size="2">3</tspan></text><text x="246.25" y="156.70000000000002" font-size="2.8" text-anchor="middle" font-weight="bold" fill="#111" stroke="#111" stroke-width="0.2">10<tspan dy="-1" font-size="2">4</tspan></text><text x="260.11" y="156.70000000000002" font-size="2.8" text-anchor="middle" font-weight="bold" fill="#111" stroke="#111" stroke-width="0.2">10<tspan dy="-1" font-size="2">5</tspan></text><text x="207.19" y="156.70000000000002" font-size="2.8" text-anchor="middle" font-weight="bold" fill="#111" stroke="#111" stroke-width="0.2">0</text><path d="M200.0 151.20000000000002v1.5M202.4 151.20000000000002v1.5M204.9 151.20000000000002v1.5M207.3 151.20000000000002v1.5M209.8 151.20000000000002v1.5M212.2 151.20000000000002v1.5M214.6 151.20000000000002v1.5M217.1 151.20000000000002v1.5M219.5 151.20000000000002v1.5M222.0 151.20000000000002v1.5M224.4 151.20000000000002v1.5M226.8 151.20000000000002v1.5M229.3 151.20000000000002v1.5M231.7 151.20000000000002v1.5M234.2 151.20000000000002v1.5M236.6 151.20000000000002v1.5M239.0 151.20000000000002v1.5M241.5 151.20000000000002v1.5M243.9 151.20000000000002v1.5M246.4 151.20000000000002v1.5M248.8 151.20000000000002v1.5M251.2 151.20000000000002v1.5M253.7 151.20000000000002v1.5M256.1 151.20000000000002v1.5M258.6 151.20000000000002v1.5M261.0 151.20000000000002v1.5" stroke="#111" stroke-width="0.7" fill="none"/>
<text x="201.2" y="98.6" font-size="7.8" text-anchor="start" font-weight="normal" font-style="normal" fill="#222" stroke="#222" stroke-width="0.28">VI</text>
<text x="235" y="109.6" font-size="4.6" text-anchor="middle" font-weight="normal" font-style="normal" fill="#222" stroke="#222" stroke-width="0.16">CLP</text>
<text x="230" y="162.8" font-size="4.4" text-anchor="middle" font-weight="normal" font-style="normal" fill="#222" stroke="#222" stroke-width="0.16">sca-1</text>
<text x="189.6" y="123" font-size="4.2" text-anchor="middle" font-weight="normal" font-style="normal" fill="#222" stroke="#222" stroke-width="0.16" transform="rotate(-90 189.6 123)">c-kit</text>
<clipPath id="c7"><rect x="32" y="167.6" width="62" height="60.0"/></clipPath>
<g clip-path="url(#c7)">
<rect x="30" y="194" width="66" height="36" fill="#8c9cf0" stroke="none" stroke-width="0.6" opacity="0.52" filter="url(#b15)"/>
<g filter="url(#spk)"><polygon points="32,191 94,191 94,227.6 32,227.6" fill="#5068ec" stroke="none" stroke-width="0.6" opacity="0.7"/></g>
<g filter="url(#spk2)"><polygon points="32,193 94,193 94,227.6 32,227.6" fill="#5068ec" stroke="none" stroke-width="0.6" opacity="0.7"/></g>
<ellipse cx="56.5" cy="198.8" rx="12.5" ry="6.2" fill="#4464ea" opacity="0.8" filter="url(#b15)" transform="rotate(-5 56.5 198.8)"/>
<ellipse cx="56.8" cy="198.6" rx="9.6" ry="4.9" fill="#08c0fc" opacity="0.9" filter="url(#b1)" transform="rotate(-6 56.8 198.6)"/>
<ellipse cx="56.8" cy="198.6" rx="8.8" ry="4.4" fill="#20ec58" opacity="1" filter="url(#b08)" transform="rotate(-6 56.8 198.6)"/>
<ellipse cx="57" cy="198.5" rx="4.6" ry="2.5" fill="#f2f010" opacity="1" filter="url(#b05)" transform="rotate(-6 57 198.5)"/>
<ellipse cx="57.2" cy="198.4" rx="2.4" ry="1.3" fill="#ff7208" opacity="1" filter="url(#b05)" transform="rotate(-6 57.2 198.4)"/>
<ellipse cx="57.4" cy="198.3" rx="1.2" ry="0.7" fill="#f03208" opacity="0.9" filter="url(#b03)" transform="rotate(-6 57.4 198.3)"/>
<rect x="32.1" y="189.8" width="35.1" height="16.6" fill="none" stroke="#222" stroke-width="0.8" opacity="1"/>
<rect x="69.7" y="190.9" width="24.3" height="12.8" fill="none" stroke="#222" stroke-width="0.8" opacity="1"/>
</g>
<rect x="32" y="167.6" width="62" height="60.0" fill="none" stroke="#666" stroke-width="0.7"/>
<text x="30.8" y="172.79999999999998" font-size="2.8" text-anchor="end" font-weight="bold" fill="#111" stroke="#111" stroke-width="0.2">10<tspan dy="-1" font-size="2">5</tspan></text><line x1="31" y1="171.79999999999998" x2="32" y2="171.79999999999998" stroke="#222" stroke-width="0.5"/><text x="30.8" y="186.6" font-size="2.8" text-anchor="end" font-weight="bold" fill="#111" stroke="#111" stroke-width="0.2">10<tspan dy="-1" font-size="2">4</tspan></text><line x1="31" y1="185.6" x2="32" y2="185.6" stroke="#222" stroke-width="0.5"/><text x="30.8" y="200.4" font-size="2.8" text-anchor="end" font-weight="bold" fill="#111" stroke="#111" stroke-width="0.2">10<tspan dy="-1" font-size="2">3</tspan></text><line x1="31" y1="199.4" x2="32" y2="199.4" stroke="#222" stroke-width="0.5"/><text x="30.8" y="214.8" font-size="2.8" text-anchor="end" font-weight="bold" fill="#111" stroke="#111" stroke-width="0.2">10<tspan dy="-1" font-size="2">2</tspan></text><line x1="31" y1="213.8" x2="32" y2="213.8" stroke="#222" stroke-width="0.5"/><text x="30.8" y="222.6" font-size="2.8" text-anchor="end" font-weight="bold" fill="#111" stroke="#111" stroke-width="0.2">0</text><text x="46.879999999999995" y="232.9" font-size="2.8" text-anchor="middle" font-weight="bold" fill="#111" stroke="#111" stroke-width="0.2">10<tspan dy="-1" font-size="2">2</tspan></text><text x="63.0" y="232.9" font-size="2.8" text-anchor="middle" font-weight="bold" fill="#111" stroke="#111" stroke-width="0.2">10<tspan dy="-1" font-size="2">3</tspan></text><text x="78.5" y="232.9" font-size="2.8" text-anchor="middle" font-weight="bold" fill="#111" stroke="#111" stroke-width="0.2">10<tspan dy="-1" font-size="2">4</tspan></text><text x="92.14" y="232.9" font-size="2.8" text-anchor="middle" font-weight="bold" fill="#111" stroke="#111" stroke-width="0.2">10<tspan dy="-1" font-size="2">5</tspan></text><text x="40.06" y="232.9" font-size="2.8" text-anchor="middle" font-weight="bold" fill="#111" stroke="#111" stroke-width="0.2">0</text><path d="M33.0 227.4v1.5M35.4 227.4v1.5M37.8 227.4v1.5M40.2 227.4v1.5M42.6 227.4v1.5M45.0 227.4v1.5M47.4 227.4v1.5M49.8 227.4v1.5M52.2 227.4v1.5M54.6 227.4v1.5M57.0 227.4v1.5M59.4 227.4v1.5M61.8 227.4v1.5M64.2 227.4v1.5M66.6 227.4v1.5M69.0 227.4v1.5M71.4 227.4v1.5M73.8 227.4v1.5M76.2 227.4v1.5M78.6 227.4v1.5M81.0 227.4v1.5M83.4 227.4v1.5M85.8 227.4v1.5M88.2 227.4v1.5M90.6 227.4v1.5M93.0 227.4v1.5" stroke="#111" stroke-width="0.7" fill="none"/>
<text x="34" y="175.2" font-size="7.8" text-anchor="start" font-weight="normal" font-style="normal" fill="#222" stroke="#222" stroke-width="0.28">IV</text>
<text x="77" y="187.2" font-size="4.6" text-anchor="middle" font-weight="normal" font-style="normal" fill="#222" stroke="#222" stroke-width="0.16">HSC</text>
<text x="63.6" y="240.2" font-size="5.4" text-anchor="middle" font-weight="normal" font-style="normal" fill="#222" stroke="#222" stroke-width="0.16">sca-1</text>
<text x="21.6" y="198.2" font-size="5.2" text-anchor="middle" font-weight="normal" font-style="normal" fill="#222" stroke="#222" stroke-width="0.16" transform="rotate(-90 21.6 198.2)" textLength="10.6" lengthAdjust="spacingAndGlyphs">c-kit</text>
<clipPath id="c8"><rect x="115.6" y="167.6" width="61.400000000000006" height="60.0"/></clipPath>
<g clip-path="url(#c8)">
<polygon points="126,186 140,182 156,184 156,196 153,206 142,206 142,227.6 129,227.6 131,206 127,196" fill="#8e9cf0" stroke="none" stroke-width="0.6" opacity="0.4" filter="url(#b2)"/>
<g filter="url(#spk)"><polygon points="124,184 140,180 156,182 158,196 154,208 142,208 143,227.6 127,227.6 130,206 126,196" fill="#5068ec" stroke="none" stroke-width="0.6" opacity="0.68"/></g>
<g filter="url(#spk2)"><polygon points="131,200 141,200 142,227.6 129,227.6" fill="#5068ec" stroke="none" stroke-width="0.6" opacity="0.72"/></g>
<ellipse cx="135.6" cy="216" rx="4.2" ry="10" fill="#6a82f0" opacity="0.7" filter="url(#b1)"/>
<ellipse cx="135.6" cy="223" rx="5.5" ry="4" fill="#6a82f0" opacity="0.6" filter="url(#b1)"/>
<ellipse cx="139" cy="189.6" rx="12" ry="4.4" fill="#4a66ec" opacity="0.85" filter="url(#b1)"/>
<ellipse cx="145.5" cy="189.4" rx="8" ry="3.8" fill="#08c0fc" opacity="0.95" filter="url(#b08)"/>
<ellipse cx="146" cy="189.4" rx="6.6" ry="3" fill="#20ec58" opacity="1" filter="url(#b08)"/>
<ellipse cx="146.3" cy="189.4" rx="3.6" ry="1.6" fill="#a0e830" opacity="1" filter="url(#b05)"/>
<ellipse cx="146.6" cy="189.4" rx="1.6" ry="0.8" fill="#d8ec20" opacity="1" filter="url(#b05)"/>
<rect x="139.5" y="179.2" width="14.5" height="14.8" fill="none" stroke="#222" stroke-width="0.8" opacity="1"/>
<rect x="139.5" y="194" width="14.5" height="13.4" fill="none" stroke="#222" stroke-width="0.8" opacity="1"/>
<rect x="122.4" y="195" width="16.7" height="12.4" fill="none" stroke="#222" stroke-width="0.8" opacity="1"/>
</g>
<rect x="115.6" y="167.6" width="61.4" height="60.0" fill="none" stroke="#666" stroke-width="0.7"/>
<text x="114.39999999999999" y="172.79999999999998" font-size="2.8" text-anchor="end" font-weight="bold" fill="#111" stroke="#111" stroke-width="0.2">10<tspan dy="-1" font-size="2">5</tspan></text><line x1="114.6" y1="171.79999999999998" x2="115.6" y2="171.79999999999998" stroke="#222" stroke-width="0.5"/><text x="114.39999999999999" y="186.6" font-size="2.8" text-anchor="end" font-weight="bold" fill="#111" stroke="#111" stroke-width="0.2">10<tspan dy="-1" font-size="2">4</tspan></text><line x1="114.6" y1="185.6" x2="115.6" y2="185.6" stroke="#222" stroke-width="0.5"/><text x="114.39999999999999" y="200.4" font-size="2.8" text-anchor="end" font-weight="bold" fill="#111" stroke="#111" stroke-width="0.2">10<tspan dy="-1" font-size="2">3</tspan></text><line x1="114.6" y1="199.4" x2="115.6" y2="199.4" stroke="#222" stroke-width="0.5"/><text x="114.39999999999999" y="214.8" font-size="2.8" text-anchor="end" font-weight="bold" fill="#111" stroke="#111" stroke-width="0.2">10<tspan dy="-1" font-size="2">2</tspan></text><line x1="114.6" y1="213.8" x2="115.6" y2="213.8" stroke="#222" stroke-width="0.5"/><text x="114.39999999999999" y="222.6" font-size="2.8" text-anchor="end" font-weight="bold" fill="#111" stroke="#111" stroke-width="0.2">0</text><text x="130.33599999999998" y="232.9" font-size="2.8" text-anchor="middle" font-weight="bold" fill="#111" stroke="#111" stroke-width="0.2">10<tspan dy="-1" font-size="2">2</tspan></text><text x="146.3" y="232.9" font-size="2.8" text-anchor="middle" font-weight="bold" fill="#111" stroke="#111" stroke-width="0.2">10<tspan dy="-1" font-size="2">3</tspan></text><text x="161.65" y="232.9" font-size="2.8" text-anchor="middle" font-weight="bold" fill="#111" stroke="#111" stroke-width="0.2">10<tspan dy="-1" font-size="2">4</tspan></text><text x="175.15800000000002" y="232.9" font-size="2.8" text-anchor="middle" font-weight="bold" fill="#111" stroke="#111" stroke-width="0.2">10<tspan dy="-1" font-size="2">5</tspan></text><text x="123.582" y="232.9" font-size="2.8" text-anchor="middle" font-weight="bold" fill="#111" stroke="#111" stroke-width="0.2">0</text><path d="M116.6 227.4v1.5M119.0 227.4v1.5M121.4 227.4v1.5M123.7 227.4v1.5M126.1 227.4v1.5M128.5 227.4v1.5M130.9 227.4v1.5M133.2 227.4v1.5M135.6 227.4v1.5M138.0 227.4v1.5M140.4 227.4v1.5M142.7 227.4v1.5M145.1 227.4v1.5M147.5 227.4v1.5M149.9 227.4v1.5M152.2 227.4v1.5M154.6 227.4v1.5M157.0 227.4v1.5M159.4 227.4v1.5M161.7 227.4v1.5M164.1 227.4v1.5M166.5 227.4v1.5M168.9 227.4v1.5M171.2 227.4v1.5M173.6 227.4v1.5M176.0 227.4v1.5" stroke="#111" stroke-width="0.7" fill="none"/>
<text x="119.2" y="175.2" font-size="7.8" text-anchor="start" font-weight="normal" font-style="normal" fill="#222" stroke="#222" stroke-width="0.28">V</text>
<text x="148.7" y="174.4" font-size="4.5" text-anchor="middle" font-weight="normal" font-style="normal" fill="#222" stroke="#222" stroke-width="0.16">GMP</text>
<text x="121.8" y="212.4" font-size="4.5" text-anchor="middle" font-weight="normal" font-style="normal" fill="#222" stroke="#222" stroke-width="0.16">MEP</text>
<text x="148.2" y="212.4" font-size="4.5" text-anchor="middle" font-weight="normal" font-style="normal" fill="#222" stroke="#222" stroke-width="0.16">CMP</text>
<text x="147" y="240.6" font-size="6.8" text-anchor="middle" font-weight="normal" font-style="normal" fill="#222" stroke="#222" stroke-width="0.14" textLength="14.8" lengthAdjust="spacingAndGlyphs">CD34</text>
<text x="106.2" y="197" font-size="6.3" text-anchor="middle" font-weight="normal" font-style="normal" fill="#222" stroke="#222" stroke-width="0.16" transform="rotate(-90 106.2 197)" textLength="22.6" lengthAdjust="spacingAndGlyphs">FCγ-R</text>
<clipPath id="c9"><rect x="199" y="167.6" width="63" height="60.0"/></clipPath>
<g clip-path="url(#c9)">
<polygon points="199,206 240,204 258,200 260,227.6 199,227.6" fill="#aab4ea" stroke="none" stroke-width="0.6" opacity="0.36" filter="url(#b2)"/>
<g filter="url(#spk)"><polygon points="199,203 240,200 258,196 260,227.6 199,227.6" fill="#7484e4" stroke="none" stroke-width="0.6" opacity="0.66"/></g>
<g filter="url(#spk2)"><polygon points="238,204 250,198 258,200 258,227.6 238,227.6" fill="#6676e2" stroke="none" stroke-width="0.6" opacity="0.7"/></g>
<g filter="url(#spk2)"><polygon points="220,193 244,193 244,203 220,203" fill="#6878e0" stroke="none" stroke-width="0.6" opacity="0.65"/></g>
<ellipse cx="249" cy="215" rx="7" ry="10" fill="#909ce8" opacity="0.45" filter="url(#b15)"/>
<rect x="218.3" y="191.9" width="27.3" height="11.8" fill="none" stroke="#333" stroke-width="0.8" opacity="1"/>
</g>
<rect x="199" y="167.6" width="63" height="60.0" fill="none" stroke="#666" stroke-width="0.7"/>
<text x="197.8" y="172.79999999999998" font-size="2.8" text-anchor="end" font-weight="bold" fill="#111" stroke="#111" stroke-width="0.2">10<tspan dy="-1" font-size="2">5</tspan></text><line x1="198" y1="171.79999999999998" x2="199" y2="171.79999999999998" stroke="#222" stroke-width="0.5"/><text x="197.8" y="186.6" font-size="2.8" text-anchor="end" font-weight="bold" fill="#111" stroke="#111" stroke-width="0.2">10<tspan dy="-1" font-size="2">4</tspan></text><line x1="198" y1="185.6" x2="199" y2="185.6" stroke="#222" stroke-width="0.5"/><text x="197.8" y="200.4" font-size="2.8" text-anchor="end" font-weight="bold" fill="#111" stroke="#111" stroke-width="0.2">10<tspan dy="-1" font-size="2">3</tspan></text><line x1="198" y1="199.4" x2="199" y2="199.4" stroke="#222" stroke-width="0.5"/><text x="197.8" y="214.8" font-size="2.8" text-anchor="end" font-weight="bold" fill="#111" stroke="#111" stroke-width="0.2">10<tspan dy="-1" font-size="2">2</tspan></text><line x1="198" y1="213.8" x2="199" y2="213.8" stroke="#222" stroke-width="0.5"/><text x="197.8" y="222.6" font-size="2.8" text-anchor="end" font-weight="bold" fill="#111" stroke="#111" stroke-width="0.2">0</text><text x="214.12" y="232.9" font-size="2.8" text-anchor="middle" font-weight="bold" fill="#111" stroke="#111" stroke-width="0.2">10<tspan dy="-1" font-size="2">2</tspan></text><text x="230.5" y="232.9" font-size="2.8" text-anchor="middle" font-weight="bold" fill="#111" stroke="#111" stroke-width="0.2">10<tspan dy="-1" font-size="2">3</tspan></text><text x="246.25" y="232.9" font-size="2.8" text-anchor="middle" font-weight="bold" fill="#111" stroke="#111" stroke-width="0.2">10<tspan dy="-1" font-size="2">4</tspan></text><text x="260.11" y="232.9" font-size="2.8" text-anchor="middle" font-weight="bold" fill="#111" stroke="#111" stroke-width="0.2">10<tspan dy="-1" font-size="2">5</tspan></text><text x="207.19" y="232.9" font-size="2.8" text-anchor="middle" font-weight="bold" fill="#111" stroke="#111" stroke-width="0.2">0</text><path d="M200.0 227.4v1.5M202.4 227.4v1.5M204.9 227.4v1.5M207.3 227.4v1.5M209.8 227.4v1.5M212.2 227.4v1.5M214.6 227.4v1.5M217.1 227.4v1.5M219.5 227.4v1.5M222.0 227.4v1.5M224.4 227.4v1.5M226.8 227.4v1.5M229.3 227.4v1.5M231.7 227.4v1.5M234.2 227.4v1.5M236.6 227.4v1.5M239.0 227.4v1.5M241.5 227.4v1.5M243.9 227.4v1.5M246.4 227.4v1.5M248.8 227.4v1.5M251.2 227.4v1.5M253.7 227.4v1.5M256.1 227.4v1.5M258.6 227.4v1.5M261.0 227.4v1.5" stroke="#111" stroke-width="0.7" fill="none"/>
<text x="201.2" y="175.2" font-size="7.8" text-anchor="start" font-weight="normal" font-style="normal" fill="#222" stroke="#222" stroke-width="0.28">VI</text>
<text x="238.6" y="184.6" font-size="4.6" text-anchor="middle" font-weight="normal" font-style="normal" fill="#222" stroke="#222" stroke-width="0.16">CLP</text>
<text x="229" y="240" font-size="5" text-anchor="middle" font-weight="normal" font-style="normal" fill="#222" stroke="#222" stroke-width="0.16">sca-1</text>
<text x="189.6" y="199" font-size="4.2" text-anchor="middle" font-weight="normal" font-style="normal" fill="#222" stroke="#222" stroke-width="0.16" transform="rotate(-90 189.6 199)">c-kit</text>
<text x="276.3" y="9.7" font-size="11.2" text-anchor="start" font-weight="bold" font-style="normal" fill="#000" stroke="#000" stroke-width="0.2">B</text>
<text x="325.4" y="9.3" font-size="4.7" text-anchor="middle" font-weight="bold" font-style="normal" fill="#000" stroke="#000" stroke-width="0.16">HSC</text><line x1="301" y1="13.1" x2="350" y2="13.1" stroke="#181818" stroke-width="1.15"/>
<line x1="300" y1="26.7" x2="300" y2="100.0" stroke="#000" stroke-width="0.9"/><line x1="299.6" y1="99.6" x2="352" y2="99.6" stroke="#000" stroke-width="0.9"/><line x1="298.2" y1="27" x2="300" y2="27" stroke="#111" stroke-width="0.7"/><text x="297.5" y="28.872" font-size="5.2" text-anchor="end" font-weight="normal" font-style="normal" fill="#111" stroke="#111" stroke-width="0.1">0.3</text><line x1="298.2" y1="51" x2="300" y2="51" stroke="#111" stroke-width="0.7"/><text x="297.5" y="52.872" font-size="5.2" text-anchor="end" font-weight="normal" font-style="normal" fill="#111" stroke="#111" stroke-width="0.1">0.2</text><line x1="298.2" y1="75.6" x2="300" y2="75.6" stroke="#111" stroke-width="0.7"/><text x="297.5" y="77.472" font-size="5.2" text-anchor="end" font-weight="normal" font-style="normal" fill="#111" stroke="#111" stroke-width="0.1">0.1</text><line x1="298.2" y1="99.6" x2="300" y2="99.6" stroke="#111" stroke-width="0.7"/><text x="297.5" y="101.472" font-size="5.2" text-anchor="end" font-weight="normal" font-style="normal" fill="#111" stroke="#111" stroke-width="0.1">0.0</text><line x1="308.25" y1="61.6" x2="308.25" y2="70.4" stroke="#000" stroke-width="0.9"/><line x1="306.25" y1="61.6" x2="310.25" y2="61.6" stroke="#000" stroke-width="0.9"/><rect x="304.05" y="70.4" width="8.35" height="29.2" fill="#585858" stroke="#111" stroke-width="0.7"/><text x="308.25" y="59.9" font-size="3.4" text-anchor="middle" font-weight="normal" font-style="normal" fill="#111" stroke="#111" stroke-width="0.16">n=4</text><line x1="317.04999999999995" y1="36" x2="317.04999999999995" y2="46.4" stroke="#000" stroke-width="0.9"/><line x1="315.04999999999995" y1="36" x2="319.04999999999995" y2="36" stroke="#000" stroke-width="0.9"/><rect x="312.4" y="46.4" width="9.3" height="53.2" fill="#d6d6d6" stroke="#111" stroke-width="0.7"/><text x="317.04999999999995" y="34.3" font-size="3.4" text-anchor="middle" font-weight="normal" font-style="normal" fill="#111" stroke="#111" stroke-width="0.16">n=4</text><line x1="334.15" y1="69" x2="334.15" y2="73.6" stroke="#000" stroke-width="0.9"/><line x1="332.15" y1="69" x2="336.15" y2="69" stroke="#000" stroke-width="0.9"/><rect x="329.85" y="73.6" width="8.55" height="26.0" fill="#585858" stroke="#111" stroke-width="0.7"/><text x="334.15" y="67.3" font-size="3.4" text-anchor="middle" font-weight="normal" font-style="normal" fill="#111" stroke="#111" stroke-width="0.16">n=4</text><line x1="342.84999999999997" y1="79" x2="342.84999999999997" y2="81" stroke="#000" stroke-width="0.9"/><line x1="340.84999999999997" y1="79" x2="344.84999999999997" y2="79" stroke="#000" stroke-width="0.9"/><rect x="338.4" y="81" width="8.9" height="18.6" fill="#d6d6d6" stroke="#111" stroke-width="0.7"/><text x="342.84999999999997" y="77.3" font-size="3.4" text-anchor="middle" font-weight="normal" font-style="normal" fill="#111" stroke="#111" stroke-width="0.16">n=4</text><text x="284.8" y="63.4" font-size="5" text-anchor="middle" font-weight="normal" font-style="normal" fill="#222" stroke="#222" stroke-width="0.16" transform="rotate(-90 284.8 63.4)">Percentage of cells</text><text x="311.6" y="106.89999999999999" font-size="3.8" text-anchor="middle" font-style="italic" fill="#222" stroke="#222" stroke-width="0.12" textLength="19" lengthAdjust="spacing">TRF1<tspan dy="-1.14" dx="0.5" font-size="2.7">flox/flox</tspan></text><text x="313.2" y="112.6" font-size="4.6" text-anchor="middle" font-weight="normal" font-style="italic" fill="#222" stroke="#222" stroke-width="0.16">Mx1-wt</text><text x="337.6" y="106.89999999999999" font-size="3.8" text-anchor="middle" font-style="italic" fill="#222" stroke="#222" stroke-width="0.12" textLength="19" lengthAdjust="spacing">TRF1<tspan dy="-1.14" dx="0.5" font-size="2.7">flox/flox</tspan></text><text x="338" y="112.6" font-size="4.6" text-anchor="middle" font-weight="normal" font-style="italic" fill="#222" stroke="#222" stroke-width="0.16">Mx1-Cre</text>
<path d="M308.6 21.9V20.4H334.3V21.9M308 56.5V26.8H342.6V35.6M316.59999999999997 26.8V31M318.2 26.8V31M334.3 26.8V28.3M334.3 62.5V35.6H342.6V71.5" fill="none" stroke="#222" stroke-width="0.6"/><text x="322" y="19.0" font-size="3.7" text-anchor="middle" font-weight="normal" font-style="normal" fill="#111" stroke="#111" stroke-width="0.16">p=0.76</text><text x="312.6" y="25.400000000000002" font-size="3.7" text-anchor="middle" font-weight="normal" font-style="normal" fill="#111" stroke="#111" stroke-width="0.16">p=0.13</text><text x="331.6" y="25.400000000000002" font-size="3.7" text-anchor="middle" font-weight="normal" font-style="normal" fill="#111" stroke="#111" stroke-width="0.16">p=0.02</text><text x="338.4" y="34.199999999999996" font-size="3.7" text-anchor="middle" font-weight="normal" font-style="normal" fill="#111" stroke="#111" stroke-width="0.16">p=0.26</text>
<text x="401.6" y="9.3" font-size="4.7" text-anchor="middle" font-weight="bold" font-style="normal" fill="#000" stroke="#000" stroke-width="0.16">CLP</text><line x1="377" y1="13.1" x2="425.4" y2="13.1" stroke="#181818" stroke-width="1.15"/>
<line x1="377" y1="25.7" x2="377" y2="100.0" stroke="#000" stroke-width="0.9"/><line x1="376.6" y1="99.6" x2="427" y2="99.6" stroke="#000" stroke-width="0.9"/><line x1="375.2" y1="26" x2="377" y2="26" stroke="#111" stroke-width="0.7"/><text x="374.5" y="27.872" font-size="5.2" text-anchor="end" font-weight="normal" font-style="normal" fill="#111" stroke="#111" stroke-width="0.1">0.15</text><line x1="375.2" y1="51" x2="377" y2="51" stroke="#111" stroke-width="0.7"/><text x="374.5" y="52.872" font-size="5.2" text-anchor="end" font-weight="normal" font-style="normal" fill="#111" stroke="#111" stroke-width="0.1">0.10</text><line x1="375.2" y1="75.6" x2="377" y2="75.6" stroke="#111" stroke-width="0.7"/><text x="374.5" y="77.472" font-size="5.2" text-anchor="end" font-weight="normal" font-style="normal" fill="#111" stroke="#111" stroke-width="0.1">0.05</text><line x1="375.2" y1="99.6" x2="377" y2="99.6" stroke="#111" stroke-width="0.7"/><text x="374.5" y="101.472" font-size="5.2" text-anchor="end" font-weight="normal" font-style="normal" fill="#111" stroke="#111" stroke-width="0.1">0.00</text><line x1="385.45" y1="84" x2="385.45" y2="89" stroke="#000" stroke-width="0.9"/><line x1="383.45" y1="84" x2="387.45" y2="84" stroke="#000" stroke-width="0.9"/><rect x="381.45" y="89" width="7.95" height="10.6" fill="#585858" stroke="#111" stroke-width="0.7"/><text x="385.45" y="82.3" font-size="3.4" text-anchor="middle" font-weight="normal" font-style="normal" fill="#111" stroke="#111" stroke-width="0.16">n=4</text><line x1="394.04999999999995" y1="70" x2="394.04999999999995" y2="80.6" stroke="#000" stroke-width="0.9"/><line x1="392.04999999999995" y1="70" x2="396.04999999999995" y2="70" stroke="#000" stroke-width="0.9"/><rect x="389.4" y="80.6" width="9.3" height="19.0" fill="#d6d6d6" stroke="#111" stroke-width="0.7"/><text x="394.04999999999995" y="68.3" font-size="3.4" text-anchor="middle" font-weight="normal" font-style="normal" fill="#111" stroke="#111" stroke-width="0.16">n=4</text><line x1="410.75" y1="52.4" x2="410.75" y2="57" stroke="#000" stroke-width="0.9"/><line x1="408.75" y1="52.4" x2="412.75" y2="52.4" stroke="#000" stroke-width="0.9"/><rect x="406.45" y="57" width="8.55" height="42.6" fill="#585858" stroke="#111" stroke-width="0.7"/><text x="410.75" y="50.699999999999996" font-size="3.4" text-anchor="middle" font-weight="normal" font-style="normal" fill="#111" stroke="#111" stroke-width="0.16">n=4</text><line x1="419.34999999999997" y1="94.4" x2="419.34999999999997" y2="96.4" stroke="#000" stroke-width="0.9"/><line x1="417.34999999999997" y1="94.4" x2="421.34999999999997" y2="94.4" stroke="#000" stroke-width="0.9"/><rect x="415" y="96.4" width="8.7" height="3.2" fill="#d6d6d6" stroke="#111" stroke-width="0.7"/><text x="419.34999999999997" y="92.7" font-size="3.4" text-anchor="middle" font-weight="normal" font-style="normal" fill="#111" stroke="#111" stroke-width="0.16">n=4</text><text x="361.4" y="63.4" font-size="5" text-anchor="middle" font-weight="normal" font-style="normal" fill="#222" stroke="#222" stroke-width="0.16" transform="rotate(-90 361.4 63.4)">Percentage of cells</text><text x="388.8" y="106.89999999999999" font-size="3.8" text-anchor="middle" font-style="italic" fill="#222" stroke="#222" stroke-width="0.12" textLength="19" lengthAdjust="spacing">TRF1<tspan dy="-1.14" dx="0.5" font-size="2.7">flox/flox</tspan></text><text x="390.2" y="112.6" font-size="4.6" text-anchor="middle" font-weight="normal" font-style="italic" fill="#222" stroke="#222" stroke-width="0.16">Mx1-wt</text><text x="414.6" y="106.89999999999999" font-size="3.8" text-anchor="middle" font-style="italic" fill="#222" stroke="#222" stroke-width="0.12" textLength="19" lengthAdjust="spacing">TRF1<tspan dy="-1.14" dx="0.5" font-size="2.7">flox/flox</tspan></text><text x="415" y="112.6" font-size="4.6" text-anchor="middle" font-weight="normal" font-style="italic" fill="#222" stroke="#222" stroke-width="0.16">Mx1-Cre</text>
<path d="M385.8 21.9V20.4H411.6V21.9M385.2 78V26.8H420.4V35M393.4 26.8V64M395.0 26.8V64M411.6 26.8V28.3M411.6 46V35H420.4V88" fill="none" stroke="#222" stroke-width="0.6"/><text x="399" y="19.0" font-size="3.7" text-anchor="middle" font-weight="normal" font-style="normal" fill="#111" stroke="#111" stroke-width="0.16">p=0.003</text><text x="389.4" y="25.400000000000002" font-size="3.7" text-anchor="middle" font-weight="normal" font-style="normal" fill="#111" stroke="#111" stroke-width="0.16">p=0.33</text><text x="407.4" y="25.400000000000002" font-size="3.7" text-anchor="middle" font-weight="normal" font-style="normal" fill="#111" stroke="#111" stroke-width="0.16">p=0.17</text><text x="416" y="33.599999999999994" font-size="3.7" text-anchor="middle" font-weight="normal" font-style="normal" fill="#111" stroke="#111" stroke-width="0.16">p=0.004</text>
<text x="475.4" y="9.3" font-size="4.7" text-anchor="middle" font-weight="bold" font-style="normal" fill="#000" stroke="#000" stroke-width="0.16">CMP</text><line x1="451" y1="13.1" x2="499" y2="13.1" stroke="#181818" stroke-width="1.15"/>
<line x1="450.4" y1="26.7" x2="450.4" y2="100.0" stroke="#000" stroke-width="0.9"/><line x1="450.0" y1="99.6" x2="503" y2="99.6" stroke="#000" stroke-width="0.9"/><line x1="448.59999999999997" y1="27" x2="450.4" y2="27" stroke="#111" stroke-width="0.7"/><text x="447.9" y="28.872" font-size="5.2" text-anchor="end" font-weight="normal" font-style="normal" fill="#111" stroke="#111" stroke-width="0.1">0.6</text><line x1="448.59999999999997" y1="51.6" x2="450.4" y2="51.6" stroke="#111" stroke-width="0.7"/><text x="447.9" y="53.472" font-size="5.2" text-anchor="end" font-weight="normal" font-style="normal" fill="#111" stroke="#111" stroke-width="0.1">0.4</text><line x1="448.59999999999997" y1="76" x2="450.4" y2="76" stroke="#111" stroke-width="0.7"/><text x="447.9" y="77.872" font-size="5.2" text-anchor="end" font-weight="normal" font-style="normal" fill="#111" stroke="#111" stroke-width="0.1">0.2</text><line x1="448.59999999999997" y1="99.6" x2="450.4" y2="99.6" stroke="#111" stroke-width="0.7"/><text x="447.9" y="101.472" font-size="5.2" text-anchor="end" font-weight="normal" font-style="normal" fill="#111" stroke="#111" stroke-width="0.1">0.0</text><line x1="459.55" y1="36" x2="459.55" y2="49" stroke="#000" stroke-width="0.9"/><line x1="457.55" y1="36" x2="461.55" y2="36" stroke="#000" stroke-width="0.9"/><rect x="455.45" y="49" width="8.15" height="50.6" fill="#585858" stroke="#111" stroke-width="0.7"/><text x="459.55" y="34.3" font-size="3.4" text-anchor="middle" font-weight="normal" font-style="normal" fill="#111" stroke="#111" stroke-width="0.16">n=4</text><line x1="467.95" y1="45" x2="467.95" y2="60" stroke="#000" stroke-width="0.9"/><line x1="465.95" y1="45" x2="469.95" y2="45" stroke="#000" stroke-width="0.9"/><rect x="463.6" y="60" width="8.7" height="39.6" fill="#d6d6d6" stroke="#111" stroke-width="0.7"/><text x="467.95" y="43.3" font-size="3.4" text-anchor="middle" font-weight="normal" font-style="normal" fill="#111" stroke="#111" stroke-width="0.16">n=4</text><line x1="484.95" y1="62.4" x2="484.95" y2="65" stroke="#000" stroke-width="0.9"/><line x1="482.95" y1="62.4" x2="486.95" y2="62.4" stroke="#000" stroke-width="0.9"/><rect x="480.85" y="65" width="8.15" height="34.6" fill="#585858" stroke="#111" stroke-width="0.7"/><text x="484.95" y="60.699999999999996" font-size="3.4" text-anchor="middle" font-weight="normal" font-style="normal" fill="#111" stroke="#111" stroke-width="0.16">n=4</text><line x1="493.15" y1="88" x2="493.15" y2="90" stroke="#000" stroke-width="0.9"/><line x1="491.15" y1="88" x2="495.15" y2="88" stroke="#000" stroke-width="0.9"/><rect x="489" y="90" width="8.3" height="9.6" fill="#d6d6d6" stroke="#111" stroke-width="0.7"/><text x="493.15" y="86.3" font-size="3.4" text-anchor="middle" font-weight="normal" font-style="normal" fill="#111" stroke="#111" stroke-width="0.16">n=4</text><text x="435.6" y="63.4" font-size="5" text-anchor="middle" font-weight="normal" font-style="normal" fill="#222" stroke="#222" stroke-width="0.16" transform="rotate(-90 435.6 63.4)">Percentage of cells</text><text x="462.2" y="106.89999999999999" font-size="3.8" text-anchor="middle" font-style="italic" fill="#222" stroke="#222" stroke-width="0.12" textLength="19" lengthAdjust="spacing">TRF1<tspan dy="-1.14" dx="0.5" font-size="2.7">flox/flox</tspan></text><text x="463.6" y="112.6" font-size="4.6" text-anchor="middle" font-weight="normal" font-style="italic" fill="#222" stroke="#222" stroke-width="0.16">Mx1-wt</text><text x="488" y="106.89999999999999" font-size="3.8" text-anchor="middle" font-style="italic" fill="#222" stroke="#222" stroke-width="0.12" textLength="19" lengthAdjust="spacing">TRF1<tspan dy="-1.14" dx="0.5" font-size="2.7">flox/flox</tspan></text><text x="488.6" y="112.6" font-size="4.6" text-anchor="middle" font-weight="normal" font-style="italic" fill="#222" stroke="#222" stroke-width="0.16">Mx1-Cre</text>
<path d="M458.8 22.0V20.5H484.5V22.0M458.2 29.5V27.1H493.4V35.6M466.8 27.1V37M468.40000000000003 27.1V37M484.5 27.1V28.6M484.5 55.5V35.6H493.4V80.5" fill="none" stroke="#222" stroke-width="0.6"/><text x="472.2" y="19.1" font-size="3.7" text-anchor="middle" font-weight="normal" font-style="normal" fill="#111" stroke="#111" stroke-width="0.16">p=0.26</text><text x="462.4" y="25.700000000000003" font-size="3.7" text-anchor="middle" font-weight="normal" font-style="normal" fill="#111" stroke="#111" stroke-width="0.16">p=0.19</text><text x="481.4" y="25.700000000000003" font-size="3.7" text-anchor="middle" font-weight="normal" font-style="normal" fill="#111" stroke="#111" stroke-width="0.16">p=0.04</text><text x="488.6" y="34.199999999999996" font-size="3.7" text-anchor="middle" font-weight="normal" font-style="normal" fill="#111" stroke="#111" stroke-width="0.16">p=0.003</text>
<text x="324.4" y="122.7" font-size="4.7" text-anchor="middle" font-weight="bold" font-style="normal" fill="#000" stroke="#000" stroke-width="0.16">MEP</text><line x1="300.6" y1="126.5" x2="348" y2="126.5" stroke="#181818" stroke-width="1.15"/>
<line x1="300" y1="141.1" x2="300" y2="214.4" stroke="#000" stroke-width="0.9"/><line x1="299.6" y1="214" x2="351.4" y2="214" stroke="#000" stroke-width="0.9"/><line x1="298.2" y1="141.4" x2="300" y2="141.4" stroke="#111" stroke-width="0.7"/><text x="297.5" y="143.272" font-size="5.2" text-anchor="end" font-weight="normal" font-style="normal" fill="#111" stroke="#111" stroke-width="0.1">0.15</text><line x1="298.2" y1="165.4" x2="300" y2="165.4" stroke="#111" stroke-width="0.7"/><text x="297.5" y="167.272" font-size="5.2" text-anchor="end" font-weight="normal" font-style="normal" fill="#111" stroke="#111" stroke-width="0.1">0.10</text><line x1="298.2" y1="189.6" x2="300" y2="189.6" stroke="#111" stroke-width="0.7"/><text x="297.5" y="191.47199999999998" font-size="5.2" text-anchor="end" font-weight="normal" font-style="normal" fill="#111" stroke="#111" stroke-width="0.1">0.05</text><line x1="298.2" y1="214" x2="300" y2="214" stroke="#111" stroke-width="0.7"/><text x="297.5" y="215.872" font-size="5.2" text-anchor="end" font-weight="normal" font-style="normal" fill="#111" stroke="#111" stroke-width="0.1">0.00</text><line x1="308.55" y1="173.4" x2="308.55" y2="179.4" stroke="#000" stroke-width="0.9"/><line x1="306.55" y1="173.4" x2="310.55" y2="173.4" stroke="#000" stroke-width="0.9"/><rect x="304.45" y="179.4" width="8.15" height="34.6" fill="#585858" stroke="#111" stroke-width="0.7"/><text x="308.55" y="171.70000000000002" font-size="3.4" text-anchor="middle" font-weight="normal" font-style="normal" fill="#111" stroke="#111" stroke-width="0.16">n=4</text><line x1="317.15" y1="180.6" x2="317.15" y2="191" stroke="#000" stroke-width="0.9"/><line x1="315.15" y1="180.6" x2="319.15" y2="180.6" stroke="#000" stroke-width="0.9"/><rect x="312.6" y="191" width="9.1" height="23" fill="#d6d6d6" stroke="#111" stroke-width="0.7"/><text x="317.15" y="178.9" font-size="3.4" text-anchor="middle" font-weight="normal" font-style="normal" fill="#111" stroke="#111" stroke-width="0.16">n=4</text><line x1="334.55" y1="151" x2="334.55" y2="159" stroke="#000" stroke-width="0.9"/><line x1="332.55" y1="151" x2="336.55" y2="151" stroke="#000" stroke-width="0.9"/><rect x="330.45" y="159" width="8.15" height="55" fill="#585858" stroke="#111" stroke-width="0.7"/><text x="334.55" y="149.3" font-size="3.4" text-anchor="middle" font-weight="normal" font-style="normal" fill="#111" stroke="#111" stroke-width="0.16">n=4</text><line x1="342.95" y1="196.6" x2="342.95" y2="200" stroke="#000" stroke-width="0.9"/><line x1="340.95" y1="196.6" x2="344.95" y2="196.6" stroke="#000" stroke-width="0.9"/><rect x="338.6" y="200" width="8.7" height="14" fill="#d6d6d6" stroke="#111" stroke-width="0.7"/><text x="342.95" y="194.9" font-size="3.4" text-anchor="middle" font-weight="normal" font-style="normal" fill="#111" stroke="#111" stroke-width="0.16">n=4</text><text x="285" y="177.4" font-size="5" text-anchor="middle" font-weight="normal" font-style="normal" fill="#222" stroke="#222" stroke-width="0.16" transform="rotate(-90 285 177.4)">Percentage of cells</text><text x="311.6" y="221.3" font-size="3.8" text-anchor="middle" font-style="italic" fill="#222" stroke="#222" stroke-width="0.12" textLength="19" lengthAdjust="spacing">TRF1<tspan dy="-1.14" dx="0.5" font-size="2.7">flox/flox</tspan></text><text x="313.2" y="227.0" font-size="4.6" text-anchor="middle" font-weight="normal" font-style="italic" fill="#222" stroke="#222" stroke-width="0.16">Mx1-wt</text><text x="337.6" y="221.3" font-size="3.8" text-anchor="middle" font-style="italic" fill="#222" stroke="#222" stroke-width="0.12" textLength="19" lengthAdjust="spacing">TRF1<tspan dy="-1.14" dx="0.5" font-size="2.7">flox/flox</tspan></text><text x="338" y="227.0" font-size="4.6" text-anchor="middle" font-weight="normal" font-style="italic" fill="#222" stroke="#222" stroke-width="0.16">Mx1-Cre</text>
<path d="M308.2 168V133.9H342.8V191M334 133.9V145M343.8 140V191M309.2 168V140.1H316.2V175M318 175V140.1H341V191" fill="none" stroke="#222" stroke-width="0.6"/>
<text x="321.6" y="132.3" font-size="3.7" text-anchor="middle" font-weight="normal" font-style="normal" fill="#111" stroke="#111" stroke-width="0.16">p=0.10</text><text x="338.6" y="132.3" font-size="3.7" text-anchor="middle" font-weight="normal" font-style="normal" fill="#111" stroke="#111" stroke-width="0.16">p=0.53</text><text x="310.6" y="138.70000000000002" font-size="3.7" text-anchor="middle" font-weight="normal" font-style="normal" fill="#111" stroke="#111" stroke-width="0.16">p=0.35</text><text x="328.8" y="138.70000000000002" font-size="3.7" text-anchor="middle" font-weight="normal" font-style="normal" fill="#111" stroke="#111" stroke-width="0.16">p=0.43</text>
<text x="402" y="122.7" font-size="4.7" text-anchor="middle" font-weight="bold" font-style="normal" fill="#000" stroke="#000" stroke-width="0.16">GMP</text><line x1="378" y1="126.5" x2="426" y2="126.5" stroke="#181818" stroke-width="1.15"/>
<line x1="377" y1="140.1" x2="377" y2="214.4" stroke="#000" stroke-width="0.9"/><line x1="376.6" y1="214" x2="428" y2="214" stroke="#000" stroke-width="0.9"/><line x1="375.2" y1="140.4" x2="377" y2="140.4" stroke="#111" stroke-width="0.7"/><text x="374.5" y="142.272" font-size="5.2" text-anchor="end" font-weight="normal" font-style="normal" fill="#111" stroke="#111" stroke-width="0.1">3</text><line x1="375.2" y1="165" x2="377" y2="165" stroke="#111" stroke-width="0.7"/><text x="374.5" y="166.872" font-size="5.2" text-anchor="end" font-weight="normal" font-style="normal" fill="#111" stroke="#111" stroke-width="0.1">2</text><line x1="375.2" y1="189.4" x2="377" y2="189.4" stroke="#111" stroke-width="0.7"/><text x="374.5" y="191.272" font-size="5.2" text-anchor="end" font-weight="normal" font-style="normal" fill="#111" stroke="#111" stroke-width="0.1">1</text><line x1="375.2" y1="214" x2="377" y2="214" stroke="#111" stroke-width="0.7"/><text x="374.5" y="215.872" font-size="5.2" text-anchor="end" font-weight="normal" font-style="normal" fill="#111" stroke="#111" stroke-width="0.1">0</text><line x1="385.75" y1="175" x2="385.75" y2="182.4" stroke="#000" stroke-width="0.9"/><line x1="383.75" y1="175" x2="387.75" y2="175" stroke="#000" stroke-width="0.9"/><rect x="381.45" y="182.4" width="8.55" height="31.6" fill="#585858" stroke="#111" stroke-width="0.7"/><text x="385.75" y="173.3" font-size="3.4" text-anchor="middle" font-weight="normal" font-style="normal" fill="#111" stroke="#111" stroke-width="0.16">n=4</text><line x1="394.65" y1="151" x2="394.65" y2="165.4" stroke="#000" stroke-width="0.9"/><line x1="392.65" y1="151" x2="396.65" y2="151" stroke="#000" stroke-width="0.9"/><rect x="390" y="165.4" width="9.3" height="48.6" fill="#d6d6d6" stroke="#111" stroke-width="0.7"/><text x="394.65" y="149.3" font-size="3.4" text-anchor="middle" font-weight="normal" font-style="normal" fill="#111" stroke="#111" stroke-width="0.16">n=4</text><line x1="411.45" y1="200.4" x2="411.45" y2="201.4" stroke="#000" stroke-width="0.9"/><line x1="409.45" y1="200.4" x2="413.45" y2="200.4" stroke="#000" stroke-width="0.9"/><rect x="407.45" y="201.4" width="7.95" height="12.6" fill="#585858" stroke="#111" stroke-width="0.7"/><text x="411.45" y="198.70000000000002" font-size="3.4" text-anchor="middle" font-weight="normal" font-style="normal" fill="#111" stroke="#111" stroke-width="0.16">n=4</text><line x1="419.84999999999997" y1="191" x2="419.84999999999997" y2="194.6" stroke="#000" stroke-width="0.9"/><line x1="417.84999999999997" y1="191" x2="421.84999999999997" y2="191" stroke="#000" stroke-width="0.9"/><rect x="415.4" y="194.6" width="8.9" height="19.4" fill="#d6d6d6" stroke="#111" stroke-width="0.7"/><text x="419.84999999999997" y="189.3" font-size="3.4" text-anchor="middle" font-weight="normal" font-style="normal" fill="#111" stroke="#111" stroke-width="0.16">n=4</text><text x="362.4" y="177.4" font-size="5" text-anchor="middle" font-weight="normal" font-style="normal" fill="#222" stroke="#222" stroke-width="0.16" transform="rotate(-90 362.4 177.4)">Percentage of cells</text><text x="390" y="221.2" font-size="4.4" text-anchor="middle" font-style="italic" fill="#222" stroke="#222" stroke-width="0.12" textLength="23" lengthAdjust="spacing">TRF1<tspan dy="-1.32" dx="0.5" font-size="3.2">flox/flox</tspan></text><text x="390" y="227.4" font-size="5" text-anchor="middle" font-weight="normal" font-style="italic" fill="#222" stroke="#222" stroke-width="0.16">Mx1-wt</text><text x="415.6" y="221.2" font-size="4.4" text-anchor="middle" font-style="italic" fill="#222" stroke="#222" stroke-width="0.12" textLength="23" lengthAdjust="spacing">TRF1<tspan dy="-1.32" dx="0.5" font-size="3.2">flox/flox</tspan></text><text x="415.6" y="227.4" font-size="5" text-anchor="middle" font-weight="normal" font-style="italic" fill="#222" stroke="#222" stroke-width="0.16">Mx1-Cre</text>
<path d="M386.5 135.0V133.5H412.1V135.0M385.9 168V140.1H420.6V149.2M395.0 140.1V144M396.6 140.1V144M412.1 140.1V141.6M412.1 193V149.2H420.6V184" fill="none" stroke="#222" stroke-width="0.6"/><text x="399.2" y="132.10000000000002" font-size="3.7" text-anchor="middle" font-weight="normal" font-style="normal" fill="#111" stroke="#111" stroke-width="0.16">p=0.34</text><text x="389.6" y="138.70000000000002" font-size="3.7" text-anchor="middle" font-weight="normal" font-style="normal" fill="#111" stroke="#111" stroke-width="0.16">p=0.26</text><text x="407.6" y="138.70000000000002" font-size="3.7" text-anchor="middle" font-weight="normal" font-style="normal" fill="#111" stroke="#111" stroke-width="0.16">p=0.08</text><text x="415.6" y="147.8" font-size="3.7" text-anchor="middle" font-weight="normal" font-style="normal" fill="#111" stroke="#111" stroke-width="0.16">p=0.25</text>
<rect x="439.8" y="201.7" width="7.8" height="3.8" fill="#fff" stroke="#111" stroke-width="0.8" opacity="1"/>
<rect x="439.8" y="207.7" width="7.8" height="3.8" fill="#585858" stroke="#111" stroke-width="0.8" opacity="1"/>
<text x="448.8" y="205.3" font-size="4.6" text-anchor="start" font-weight="normal" font-style="normal" fill="#222" stroke="#222" stroke-width="0.16">+pIpC</text>
<text x="449.6" y="211.3" font-size="4.6" text-anchor="start" font-weight="normal" font-style="normal" fill="#222" stroke="#222" stroke-width="0.16">-pIpC</text>
<text x="276.5" y="239.1" font-size="11.2" text-anchor="start" font-weight="bold" font-style="normal" fill="#000" stroke="#000" stroke-width="0.2">C</text>
<text x="320" y="245.6" font-size="3.9" text-anchor="middle" font-style="italic" fill="#222" stroke="#222" stroke-width="0.12" textLength="22.5" lengthAdjust="spacing">TRF1<tspan dy="-1.17" dx="0.5" font-size="3.1">flox/flox</tspan></text>
<text x="320" y="251.6" font-size="4.6" text-anchor="middle" font-weight="normal" font-style="italic" fill="#222" stroke="#222" stroke-width="0.16">Mx1-wt</text>
<line x1="295.0" y1="254.4" x2="345.0" y2="254.4" stroke="#333" stroke-width="0.7"/>
<clipPath id="c10"><rect x="295.4" y="257.4" width="49.200000000000045" height="46.200000000000045"/></clipPath>
<g clip-path="url(#c10)">
<ellipse cx="316.1" cy="274.8" rx="7" ry="3" fill="#8090f0" opacity="0.6" filter="url(#b1)" transform="rotate(-35 316.1 274.8)"/>
<ellipse cx="317.1" cy="273.8" rx="4" ry="1.6" fill="#6a7cf0" opacity="0.6" filter="url(#b08)" transform="rotate(-30 317.1 273.8)"/>
<ellipse cx="311.6" cy="278.8" rx="2.6" ry="3.2" fill="#8a9af2" opacity="0.55" filter="url(#b08)" transform="rotate(-30 311.6 278.8)"/>
<ellipse cx="304.6" cy="286.3" rx="2.5" ry="3" fill="#8a9af2" opacity="0.4" filter="url(#b08)"/>
<ellipse cx="308.6" cy="284.3" rx="3.2" ry="5" fill="#3452e8" opacity="0.9" filter="url(#b08)" transform="rotate(-8 308.6 284.3)"/>
<ellipse cx="308.6" cy="283.8" rx="2.4" ry="3.5" fill="#08c0fc" opacity="1" filter="url(#b05)" transform="rotate(-8 308.6 283.8)"/>
<ellipse cx="308.6" cy="283.8" rx="1.6" ry="2.4" fill="#20ec58" opacity="1" filter="url(#b05)" transform="rotate(-8 308.6 283.8)"/>
<ellipse cx="308.6" cy="283.8" rx="0.7" ry="1.1" fill="#b0f030" opacity="1" filter="url(#b03)"/>
<polygon points="306.6,261 328,261 328.6,265 324,278 305,278.4 299.4,274.6" fill="none" stroke="#151515" stroke-width="0.75" opacity="1"/>
</g>
<rect x="295.4" y="257.4" width="49.2" height="46.2" fill="none" stroke="#666" stroke-width="0.7"/>
<text x="294.2" y="261.53399999999993" font-size="2.4" text-anchor="end" font-weight="bold" fill="#222">10<tspan dy="-0.9" font-size="1.8">5</tspan></text><line x1="294.4" y1="260.63399999999996" x2="295.4" y2="260.63399999999996" stroke="#222" stroke-width="0.45"/><text x="294.2" y="271.698" font-size="2.4" text-anchor="end" font-weight="bold" fill="#222">10<tspan dy="-0.9" font-size="1.8">4</tspan></text><line x1="294.4" y1="270.798" x2="295.4" y2="270.798" stroke="#222" stroke-width="0.45"/><text x="294.2" y="282.32399999999996" font-size="2.4" text-anchor="end" font-weight="bold" fill="#222">10<tspan dy="-0.9" font-size="1.8">3</tspan></text><line x1="294.4" y1="281.424" x2="295.4" y2="281.424" stroke="#222" stroke-width="0.45"/><text x="294.2" y="292.488" font-size="2.4" text-anchor="end" font-weight="bold" fill="#222">10<tspan dy="-0.9" font-size="1.8">2</tspan></text><line x1="294.4" y1="291.588" x2="295.4" y2="291.588" stroke="#222" stroke-width="0.45"/><text x="294.2" y="302.652" font-size="2.4" text-anchor="end" font-weight="bold" fill="#222">10<tspan dy="-0.9" font-size="1.8">1</tspan></text><line x1="294.4" y1="301.752" x2="295.4" y2="301.752" stroke="#222" stroke-width="0.45"/><text x="299.33599999999996" y="308.40000000000003" font-size="2.2" text-anchor="middle" font-weight="bold" fill="#333">50K</text><line x1="299.33599999999996" y1="303.6" x2="299.33599999999996" y2="304.6" stroke="#222" stroke-width="0.45"/><text x="309.176" y="308.40000000000003" font-size="2.2" text-anchor="middle" font-weight="bold" fill="#333">100K</text><line x1="309.176" y1="303.6" x2="309.176" y2="304.6" stroke="#222" stroke-width="0.45"/><text x="319.016" y="308.40000000000003" font-size="2.2" text-anchor="middle" font-weight="bold" fill="#333">150K</text><line x1="319.016" y1="303.6" x2="319.016" y2="304.6" stroke="#222" stroke-width="0.45"/><text x="328.856" y="308.40000000000003" font-size="2.2" text-anchor="middle" font-weight="bold" fill="#333">200K</text><line x1="328.856" y1="303.6" x2="328.856" y2="304.6" stroke="#222" stroke-width="0.45"/><text x="338.696" y="308.40000000000003" font-size="2.2" text-anchor="middle" font-weight="bold" fill="#333">250K</text><line x1="338.696" y1="303.6" x2="338.696" y2="304.6" stroke="#222" stroke-width="0.45"/>
<text x="320.6" y="314.4" font-size="5" text-anchor="middle" font-weight="normal" font-style="normal" fill="#222" stroke="#222" stroke-width="0.16" textLength="38" lengthAdjust="spacingAndGlyphs">Propidiume Iodide</text>
<text x="286.5" y="282.6" font-size="5" text-anchor="middle" font-weight="normal" font-style="normal" fill="#222" stroke="#222" stroke-width="0.16" transform="rotate(-90 286.5 282.6)" textLength="9.8" lengthAdjust="spacingAndGlyphs">BrdU</text>
<text x="387" y="245.6" font-size="3.9" text-anchor="middle" font-style="italic" fill="#222" stroke="#222" stroke-width="0.12" textLength="22.5" lengthAdjust="spacing">TRF1<tspan dy="-1.17" dx="0.5" font-size="3.1">flox/flox</tspan></text>
<text x="387" y="251.6" font-size="4.6" text-anchor="middle" font-weight="normal" font-style="italic" fill="#222" stroke="#222" stroke-width="0.16">Mx1-Cre</text>
<line x1="361.6" y1="254.4" x2="411.7" y2="254.4" stroke="#333" stroke-width="0.7"/>
<clipPath id="c11"><rect x="362" y="257.4" width="49.30000000000001" height="46.200000000000045"/></clipPath>
<g clip-path="url(#c11)">
<ellipse cx="383.6" cy="272" rx="8" ry="4" fill="#5a70ee" opacity="0.75" filter="url(#b1)" transform="rotate(-38 383.6 272)"/>
<ellipse cx="383.1" cy="272" rx="5.6" ry="2.8" fill="#3050e8" opacity="0.9" filter="url(#b08)" transform="rotate(-38 383.1 272)"/>
<ellipse cx="377.6" cy="278.5" rx="3" ry="3.5" fill="#4a66ee" opacity="0.7" filter="url(#b08)" transform="rotate(-30 377.6 278.5)"/>
<ellipse cx="370.6" cy="285.5" rx="2.5" ry="3" fill="#8a9af2" opacity="0.4" filter="url(#b08)"/>
<ellipse cx="374.6" cy="283.5" rx="3.2" ry="5" fill="#3452e8" opacity="0.9" filter="url(#b08)" transform="rotate(-8 374.6 283.5)"/>
<ellipse cx="374.6" cy="283" rx="2.4" ry="3.5" fill="#08c0fc" opacity="1" filter="url(#b05)" transform="rotate(-8 374.6 283)"/>
<ellipse cx="374.6" cy="283" rx="1.6" ry="2.4" fill="#20ec58" opacity="1" filter="url(#b05)" transform="rotate(-8 374.6 283)"/>
<ellipse cx="374.6" cy="283" rx="1.0" ry="1.5" fill="#f2f010" opacity="1" filter="url(#b03)"/>
<ellipse cx="374.6" cy="283" rx="0.5" ry="0.8" fill="#ff7208" opacity="1" filter="url(#b03)"/>
<polygon points="372,261 394,261.4 395.6,266 388,277.4 375,278 366,274" fill="none" stroke="#5a3c10" stroke-width="0.75" opacity="1"/>
</g>
<rect x="362" y="257.4" width="49.3" height="46.2" fill="none" stroke="#666" stroke-width="0.7"/>
<text x="360.8" y="261.53399999999993" font-size="2.4" text-anchor="end" font-weight="bold" fill="#222">10<tspan dy="-0.9" font-size="1.8">5</tspan></text><line x1="361" y1="260.63399999999996" x2="362" y2="260.63399999999996" stroke="#222" stroke-width="0.45"/><text x="360.8" y="271.698" font-size="2.4" text-anchor="end" font-weight="bold" fill="#222">10<tspan dy="-0.9" font-size="1.8">4</tspan></text><line x1="361" y1="270.798" x2="362" y2="270.798" stroke="#222" stroke-width="0.45"/><text x="360.8" y="282.32399999999996" font-size="2.4" text-anchor="end" font-weight="bold" fill="#222">10<tspan dy="-0.9" font-size="1.8">3</tspan></text><line x1="361" y1="281.424" x2="362" y2="281.424" stroke="#222" stroke-width="0.45"/><text x="360.8" y="292.488" font-size="2.4" text-anchor="end" font-weight="bold" fill="#222">10<tspan dy="-0.9" font-size="1.8">2</tspan></text><line x1="361" y1="291.588" x2="362" y2="291.588" stroke="#222" stroke-width="0.45"/><text x="360.8" y="302.652" font-size="2.4" text-anchor="end" font-weight="bold" fill="#222">10<tspan dy="-0.9" font-size="1.8">1</tspan></text><line x1="361" y1="301.752" x2="362" y2="301.752" stroke="#222" stroke-width="0.45"/><text x="365.944" y="308.40000000000003" font-size="2.2" text-anchor="middle" font-weight="bold" fill="#333">50K</text><line x1="365.944" y1="303.6" x2="365.944" y2="304.6" stroke="#222" stroke-width="0.45"/><text x="375.80400000000003" y="308.40000000000003" font-size="2.2" text-anchor="middle" font-weight="bold" fill="#333">100K</text><line x1="375.80400000000003" y1="303.6" x2="375.80400000000003" y2="304.6" stroke="#222" stroke-width="0.45"/><text x="385.664" y="308.40000000000003" font-size="2.2" text-anchor="middle" font-weight="bold" fill="#333">150K</text><line x1="385.664" y1="303.6" x2="385.664" y2="304.6" stroke="#222" stroke-width="0.45"/><text x="395.524" y="308.40000000000003" font-size="2.2" text-anchor="middle" font-weight="bold" fill="#333">200K</text><line x1="395.524" y1="303.6" x2="395.524" y2="304.6" stroke="#222" stroke-width="0.45"/><text x="405.384" y="308.40000000000003" font-size="2.2" text-anchor="middle" font-weight="bold" fill="#333">250K</text><line x1="405.384" y1="303.6" x2="405.384" y2="304.6" stroke="#222" stroke-width="0.45"/>
<text x="387.25" y="314.4" font-size="5" text-anchor="middle" font-weight="normal" font-style="normal" fill="#222" stroke="#222" stroke-width="0.16" textLength="38" lengthAdjust="spacingAndGlyphs">Propidiume Iodide</text>
<text x="353.1" y="282.6" font-size="5" text-anchor="middle" font-weight="normal" font-style="normal" fill="#222" stroke="#222" stroke-width="0.16" transform="rotate(-90 353.1 282.6)" textLength="9.8" lengthAdjust="spacingAndGlyphs">BrdU</text>
<text x="422.8" y="239.6" font-size="11.2" text-anchor="start" font-weight="bold" font-style="normal" fill="#000" stroke="#000" stroke-width="0.2">D</text>
<line x1="453.6" y1="234.7" x2="453.6" y2="325.4" stroke="#000" stroke-width="0.9"/><line x1="453.20000000000005" y1="325" x2="514" y2="325" stroke="#000" stroke-width="0.9"/><line x1="451.8" y1="235" x2="453.6" y2="235" stroke="#111" stroke-width="0.7"/><text x="451.1" y="236.656" font-size="4.6" text-anchor="end" font-weight="normal" font-style="normal" fill="#111" stroke="#111" stroke-width="0.1">20</text><line x1="451.8" y1="258" x2="453.6" y2="258" stroke="#111" stroke-width="0.7"/><text x="451.1" y="259.656" font-size="4.6" text-anchor="end" font-weight="normal" font-style="normal" fill="#111" stroke="#111" stroke-width="0.1">15</text><line x1="451.8" y1="280" x2="453.6" y2="280" stroke="#111" stroke-width="0.7"/><text x="451.1" y="281.656" font-size="4.6" text-anchor="end" font-weight="normal" font-style="normal" fill="#111" stroke="#111" stroke-width="0.1">10</text><line x1="451.8" y1="302.6" x2="453.6" y2="302.6" stroke="#111" stroke-width="0.7"/><text x="451.1" y="304.25600000000003" font-size="4.6" text-anchor="end" font-weight="normal" font-style="normal" fill="#111" stroke="#111" stroke-width="0.1">5</text><line x1="451.8" y1="325" x2="453.6" y2="325" stroke="#111" stroke-width="0.7"/><text x="451.1" y="326.656" font-size="4.6" text-anchor="end" font-weight="normal" font-style="normal" fill="#111" stroke="#111" stroke-width="0.1">0</text><line x1="464.65" y1="265.5" x2="464.65" y2="272.4" stroke="#000" stroke-width="0.9"/><line x1="462.65" y1="265.5" x2="466.65" y2="265.5" stroke="#000" stroke-width="0.9"/><rect x="459.45" y="272.4" width="10.35" height="52.6" fill="#585858" stroke="#111" stroke-width="0.7"/><text x="464.65" y="263.8" font-size="3.4" text-anchor="middle" font-weight="normal" font-style="normal" fill="#111" stroke="#111" stroke-width="0.16">n=4</text><line x1="475.35" y1="270.6" x2="475.35" y2="272.4" stroke="#000" stroke-width="0.9"/><line x1="473.35" y1="270.6" x2="477.35" y2="270.6" stroke="#000" stroke-width="0.9"/><rect x="469.8" y="272.4" width="11.1" height="52.6" fill="#d6d6d6" stroke="#111" stroke-width="0.7"/><text x="475.35" y="268.90000000000003" font-size="3.4" text-anchor="middle" font-weight="normal" font-style="normal" fill="#111" stroke="#111" stroke-width="0.16">n=4</text><line x1="496.65" y1="274.6" x2="496.65" y2="279" stroke="#000" stroke-width="0.9"/><line x1="494.65" y1="274.6" x2="498.65" y2="274.6" stroke="#000" stroke-width="0.9"/><rect x="491.45" y="279" width="10.35" height="46" fill="#585858" stroke="#111" stroke-width="0.7"/><text x="496.65" y="272.90000000000003" font-size="3.4" text-anchor="middle" font-weight="normal" font-style="normal" fill="#111" stroke="#111" stroke-width="0.16">n=4</text><line x1="507.19999999999993" y1="248.4" x2="507.19999999999993" y2="255.2" stroke="#000" stroke-width="0.9"/><line x1="505.19999999999993" y1="248.4" x2="509.19999999999993" y2="248.4" stroke="#000" stroke-width="0.9"/><rect x="501.8" y="255.2" width="10.8" height="69.8" fill="#d6d6d6" stroke="#111" stroke-width="0.7"/><text x="507.19999999999993" y="246.70000000000002" font-size="3.4" text-anchor="middle" font-weight="normal" font-style="normal" fill="#111" stroke="#111" stroke-width="0.16">n=4</text><text x="437.8" y="278.4" font-size="5" text-anchor="middle" font-weight="normal" font-style="normal" fill="#222" stroke="#222" stroke-width="0.16" transform="rotate(-90 437.8 278.4)">Percentage of BrdU positive cells</text><text x="470" y="331.4" font-size="3.9" text-anchor="middle" font-style="italic" fill="#222" stroke="#222" stroke-width="0.12" textLength="22.5" lengthAdjust="spacing">TRF1<tspan dy="-1.17" dx="0.5" font-size="3.1">flox/flox</tspan></text><text x="470" y="338.2" font-size="4.6" text-anchor="middle" font-weight="normal" font-style="italic" fill="#222" stroke="#222" stroke-width="0.16">Mx1-wt</text><text x="502" y="331.4" font-size="3.9" text-anchor="middle" font-style="italic" fill="#222" stroke="#222" stroke-width="0.12" textLength="22.5" lengthAdjust="spacing">TRF1<tspan dy="-1.17" dx="0.5" font-size="3.1">flox/flox</tspan></text><text x="502" y="338.2" font-size="4.6" text-anchor="middle" font-weight="normal" font-style="italic" fill="#222" stroke="#222" stroke-width="0.16">Mx1-Cre</text>
<path d="M465.20000000000005 229.5V228H495.8V229.5M464.6 256V234.9H506.5V241.3M475.2 234.9V260.3M476.8 234.9V260.3M495.8 234.9V236.4M495.8 267.5V241.3H506.5V243" fill="none" stroke="#222" stroke-width="0.6"/><text x="481.9" y="226.60000000000002" font-size="3.7" text-anchor="middle" font-weight="normal" font-style="normal" fill="#111" stroke="#111" stroke-width="0.16">p=0.41</text><text x="469.6" y="233.50000000000003" font-size="3.7" text-anchor="middle" font-weight="normal" font-style="normal" fill="#111" stroke="#111" stroke-width="0.16">p=0.98</text><text x="491.6" y="233.50000000000003" font-size="3.7" text-anchor="middle" font-weight="normal" font-style="normal" fill="#111" stroke="#111" stroke-width="0.16">p=0.05</text><text x="501.3" y="239.90000000000003" font-size="3.7" text-anchor="middle" font-weight="normal" font-style="normal" fill="#111" stroke="#111" stroke-width="0.16">p=0.02</text>
</g>
</svg>
</body></html>
